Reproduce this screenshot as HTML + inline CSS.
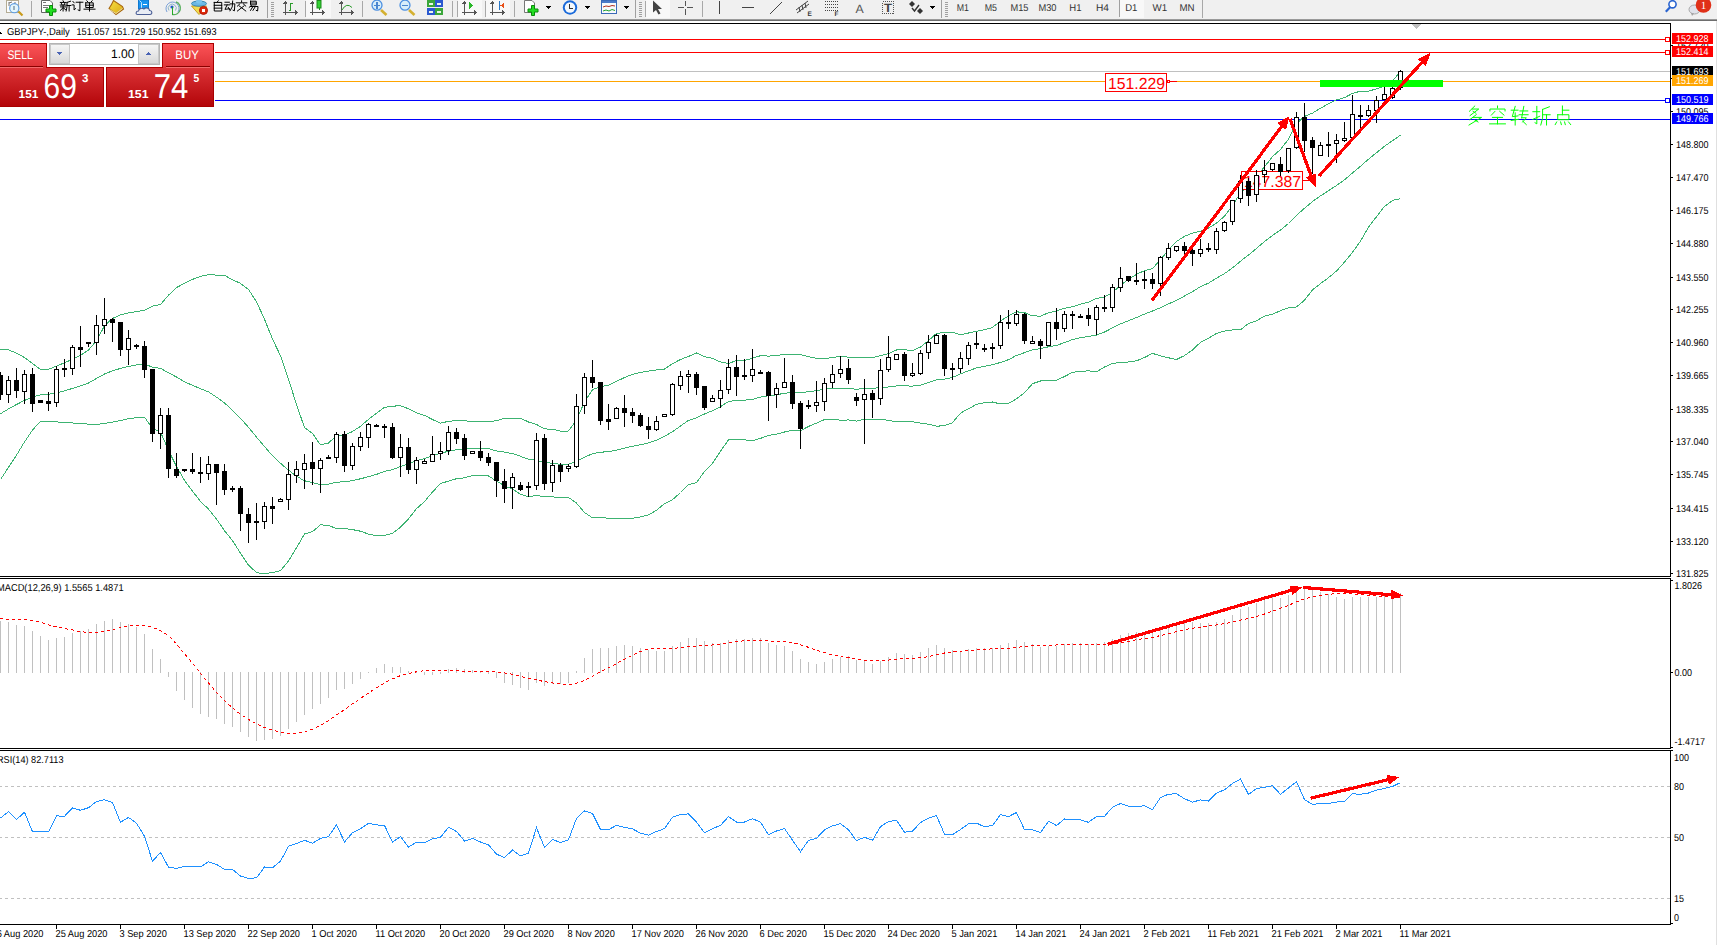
<!DOCTYPE html>
<html><head><meta charset="utf-8"><style>
html,body{margin:0;padding:0;background:#fff;overflow:hidden;}
svg{display:block;font-family:"Liberation Sans",sans-serif;}
</style></head><body>
<svg width="1717" height="945" viewBox="0 0 1717 945" shape-rendering="crispEdges" text-rendering="geometricPrecision">
<rect x="0" y="0" width="1717" height="945" fill="#fff"/>
<rect x="0" y="0" width="1717" height="19" fill="#F0F0F0"/>
<rect x="0" y="19" width="1717" height="1" fill="#9A9A9A"/>
<rect x="0" y="20" width="1717" height="1" fill="#6E6E6E"/>
<g id="toolbar"><rect x="6.5" y="0.5" width="12" height="12" fill="#FCFCFC" stroke="#B4AC94" shape-rendering="auto"/>
<path d="M9,2 L9,6 M9,3 L12,2 M15,2 L15,6" stroke="#777" fill="none" shape-rendering="auto"/>
<line x1="18.5" y1="11.5" x2="22.5" y2="15.5" stroke="#C89A1A" stroke-width="2.2" shape-rendering="auto"/>
<circle cx="14.3" cy="8.2" r="4.6" fill="#E4F6FC" stroke="#5C9BE0" stroke-width="1.1" shape-rendering="auto"/>
<rect x="13" y="5.5" width="2" height="4" fill="#9AB0C0"/>
<rect x="31" y="1" width="1" height="16" fill="#A8A8A8"/>
<path d="M41.5,0.5 L50,0.5 L52.5,3 L52.5,12.5 L41.5,12.5 Z" fill="#fff" stroke="#666" shape-rendering="auto"/>
<rect x="43" y="1.5" width="3" height="1.2" fill="#777"/><rect x="43" y="5" width="6" height="1" fill="#777"/><rect x="43" y="7" width="5" height="1" fill="#777"/>
<path d="M49.5,5.5 h3 v3.5 h3.5 v3 h-3.5 v3.5 h-3 v-3.5 h-3.5 v-3 h3.5 z" fill="#22DD22" stroke="#0A8A0A" shape-rendering="auto"/>
<path d="M63.08,0.80 L63.52,1.72 M60.33,2.43 L65.83,2.43 M61.32,3.25 L61.87,4.57 M64.84,3.25 L64.29,4.57 M60.22,5.08 L66.05,5.08 M60.55,6.92 L65.72,6.92 M63.08,5.08 L63.08,11.00 M62.86,7.94 L60.33,10.39 M63.41,7.94 L65.50,9.57 M70.56,1.21 L67.04,2.43 M67.04,2.43 L67.04,6.51 L66.16,11.00 M67.04,5.49 L70.89,5.49 M69.13,5.49 L69.13,11.00 M72.88,1.41 L74.20,2.84 M72.22,4.88 L74.09,4.88 L74.09,9.98 L75.63,8.55 M76.18,2.23 L82.89,2.23 M79.92,2.23 L79.92,10.80 L78.16,9.98 M86.86,0.80 L87.96,2.02 M92.14,0.80 L91.04,2.02 M85.76,2.84 L93.24,2.84 L93.24,7.53 L85.76,7.53 L85.76,2.84 M85.76,5.19 L93.24,5.19 M89.50,2.84 L89.50,11.00 M84.00,9.16 L95.00,9.16" fill="none" stroke="#000" stroke-width="1.0" stroke-linecap="square" shape-rendering="auto"/>
<defs><linearGradient id="gBook" x1="0" y1="0" x2="1" y2="1"><stop offset="0" stop-color="#F8E040"/><stop offset="1" stop-color="#D8A818"/></linearGradient></defs>
<path d="M113.5,0.5 Q112,4 109,8.5 L116,14.5 L123.5,9 L122.5,6.5 Z" fill="url(#gBook)" stroke="#A86810" stroke-width="1.1" shape-rendering="auto"/>
<path d="M109.5,9.5 L116,13.5 L122.5,8.5" stroke="#E8D8A0" fill="none" shape-rendering="auto"/>
<rect x="138.5" y="0" width="10" height="9" fill="#1A94F0" stroke="#0E78D0" shape-rendering="auto"/>
<path d="M139.5,0.5 L141.5,2.5 L141.5,9" stroke="#BFE4FF" fill="none" shape-rendering="auto"/>
<rect x="143" y="4" width="4" height="1" fill="#fff"/>
<path d="M137.5,14.5 C135.5,14.5 135.5,11 138.5,11 C139,8.5 142,7.5 144,9 C145.5,7 149.5,8 149.5,10.5 C152.5,10.5 152.5,14.5 150,14.5 Z" fill="#E8ECF4" stroke="#4A5E96" stroke-width="1.1" shape-rendering="auto"/>
<g fill="none" shape-rendering="auto"><path d="M167,12 A6.5,6.5 0 1 1 178,12" stroke="#7AA0D8" stroke-width="1"/><path d="M169,10.5 A4,4 0 1 1 175.5,10.5" stroke="#8CB4C8" stroke-width="1"/><path d="M176,2 A6.5,6.5 0 0 1 172.5,14.5" stroke="#5CB060" stroke-width="1.4"/></g>
<circle cx="172" cy="7" r="1.6" fill="#2255CC" shape-rendering="auto"/>
<rect x="172" y="7" width="1" height="7.5" fill="#22AA22"/>
<polygon points="191.5,6 206.5,6 199,14.5" fill="#F2DC50" stroke="#C8A020" shape-rendering="auto"/>
<ellipse cx="199" cy="3.6" rx="7.5" ry="2.6" fill="#6CB8E4" stroke="#3A88B0" shape-rendering="auto"/>
<ellipse cx="199" cy="1.5" rx="3" ry="2" fill="#7CC4EC" shape-rendering="auto"/>
<circle cx="203.5" cy="10.4" r="4" fill="#E02A0A" stroke="#B01808" shape-rendering="auto"/>
<rect x="202" y="9" width="3" height="3" fill="#fff"/>
<path d="M218.22,0.80 L217.12,2.23 M214.26,2.43 L221.74,2.43 L221.74,11.00 L214.26,11.00 L214.26,2.43 M214.26,5.29 L221.74,5.29 M214.26,8.14 L221.74,8.14 M224.96,2.23 L229.36,2.23 M224.30,4.88 L229.80,4.88 M227.16,4.88 L224.96,9.37 L229.36,8.76 M228.26,7.33 L229.58,9.78 M230.24,3.86 L234.86,3.86 L234.42,10.80 L233.10,10.18 M232.66,1.00 L232.22,6.92 L230.02,10.80 M241.60,0.80 L241.60,2.02 M236.32,2.84 L246.88,2.84 M239.84,3.86 L237.42,6.10 M243.36,3.86 L245.78,6.10 M239.18,5.90 L245.78,11.00 M244.02,5.90 L237.42,11.00 M250.54,1.21 L256.26,1.21 L256.26,4.88 L250.54,4.88 L250.54,1.21 M250.54,3.04 L256.26,3.04 M251.42,5.49 L249.22,7.33 M250.54,6.51 L258.02,6.51 L257.58,11.00 L256.26,10.39 M252.96,6.51 L250.54,10.39 M255.38,6.51 L252.96,10.39" fill="none" stroke="#000" stroke-width="1.0" stroke-linecap="square" shape-rendering="auto"/>
<rect x="267" y="0" width="1" height="18" fill="#A0A0A0"/>
<rect x="271" y="2" width="3" height="1" fill="#A0A0A0"/>
<rect x="271" y="4" width="3" height="1" fill="#A0A0A0"/>
<rect x="271" y="6" width="3" height="1" fill="#A0A0A0"/>
<rect x="271" y="8" width="3" height="1" fill="#A0A0A0"/>
<rect x="271" y="10" width="3" height="1" fill="#A0A0A0"/>
<rect x="271" y="12" width="3" height="1" fill="#A0A0A0"/>
<rect x="271" y="14" width="3" height="1" fill="#A0A0A0"/>
<rect x="271" y="16" width="3" height="1" fill="#A0A0A0"/>
<rect x="285" y="1" width="1" height="14" fill="#555"/>
<rect x="283" y="12" width="14" height="1" fill="#555"/>
<polygon points="283.5,3.5 285.5,0.5 287.5,3.5" fill="#555"/>
<polygon points="295,10 298,12.5 295,15" fill="#555"/>
<path d="M290.5,10 h-2 M290.5,10 V3 h2" stroke="#2A9A2A" fill="none"/>
<rect x="305" y="1" width="1" height="16" fill="#A8A8A8"/>
<rect x="306" y="0" width="25" height="18" fill="#F8F8F8"/>
<rect x="312" y="1" width="1" height="14" fill="#555"/>
<rect x="310" y="12" width="14" height="1" fill="#555"/>
<polygon points="310.5,3.5 312.5,0.5 314.5,3.5" fill="#555"/>
<polygon points="322,10 325,12.5 322,15" fill="#555"/>
<rect x="317" y="0.5" width="4" height="7.5" fill="#34D234" stroke="#1A8A1A" shape-rendering="auto"/>
<rect x="318.5" y="8" width="1" height="2" fill="#1A8A1A"/>
<rect x="341" y="1" width="1" height="14" fill="#555"/>
<rect x="339" y="12" width="14" height="1" fill="#555"/>
<polygon points="339.5,3.5 341.5,0.5 343.5,3.5" fill="#555"/>
<polygon points="351,10 354,12.5 351,15" fill="#555"/>
<path d="M342,10 Q346.5,2 352,7.5" stroke="#2A9A2A" fill="none" shape-rendering="auto"/>
<rect x="362" y="1" width="1" height="16" fill="#A8A8A8"/>
<line x1="381" y1="10" x2="386.5" y2="15" stroke="#D4B030" stroke-width="2.6" shape-rendering="auto"/>
<circle cx="377" cy="5.2" r="5" fill="#D8EEFA" stroke="#4C90E0" stroke-width="1.3" shape-rendering="auto"/>
<rect x="374" y="4.5" width="6" height="1.6" fill="#4A86D0"/>
<rect x="376.2" y="2" width="1.6" height="6.5" fill="#4A86D0"/>
<line x1="409" y1="10" x2="414.5" y2="15" stroke="#D4B030" stroke-width="2.6" shape-rendering="auto"/>
<circle cx="405" cy="5.2" r="5" fill="#D8EEFA" stroke="#4C90E0" stroke-width="1.3" shape-rendering="auto"/>
<rect x="402" y="4.5" width="6" height="1.6" fill="#4A86D0"/>
<rect x="427" y="0" width="7.5" height="7" fill="#3AA63A"/>
<rect x="428.5" y="2.5" width="4.5" height="2.5" fill="#EAF4EA"/>
<rect x="435" y="0" width="7.5" height="7" fill="#2A58D0"/>
<rect x="436.5" y="2.5" width="4.5" height="2.5" fill="#EAF4EA"/>
<rect x="427" y="8" width="7.5" height="7" fill="#2A58D0"/>
<rect x="428.5" y="10.5" width="4.5" height="2.5" fill="#EAF4EA"/>
<rect x="435" y="8" width="7.5" height="7" fill="#3AA63A"/>
<rect x="436.5" y="10.5" width="4.5" height="2.5" fill="#EAF4EA"/>
<rect x="452" y="1" width="1" height="16" fill="#A8A8A8"/>
<rect x="457" y="1" width="1" height="16" fill="#A8A8A8"/>
<rect x="458" y="0" width="24" height="18" fill="#F8F8F8"/>
<rect x="464" y="1" width="1" height="14" fill="#555"/>
<rect x="462" y="12" width="14" height="1" fill="#555"/>
<polygon points="462.5,3.5 464.5,0.5 466.5,3.5" fill="#555"/>
<polygon points="474,10 477,12.5 474,15" fill="#555"/>
<polygon points="469,2 473,5.5 469,9" fill="#2AB82A"/>
<rect x="485" y="1" width="1" height="16" fill="#A8A8A8"/>
<rect x="486" y="0" width="24" height="18" fill="#F8F8F8"/>
<rect x="492" y="1" width="1" height="14" fill="#555"/>
<rect x="490" y="12" width="14" height="1" fill="#555"/>
<polygon points="490.5,3.5 492.5,0.5 494.5,3.5" fill="#555"/>
<polygon points="502,10 505,12.5 502,15" fill="#555"/>
<rect x="499" y="1" width="1" height="9" fill="#2A78C8"/>
<polygon points="500.5,5.5 504,3 504,8" fill="#E8501A"/>
<rect x="514" y="1" width="1" height="16" fill="#A8A8A8"/>
<path d="M524.5,0.5 L532,0.5 L534.5,3 L534.5,12.5 L524.5,12.5 Z" fill="#fff" stroke="#777" shape-rendering="auto"/>
<path d="M531.5,5.5 h3 v3.5 h3.5 v3 h-3.5 v3.5 h-3 v-3.5 h-3.5 v-3 h3.5 z" fill="#22DD22" stroke="#0A8A0A" shape-rendering="auto"/>
<polygon points="545,6 551,6 548,9" fill="#000"/>
<circle cx="570" cy="7.5" r="7.2" fill="#1A6ADA" shape-rendering="auto"/>
<circle cx="570" cy="7.5" r="5.2" fill="#F4F8FC" shape-rendering="auto"/>
<path d="M569.5,3.5 V8 H573" stroke="#333" fill="none"/>
<polygon points="584,6 590,6 587,9" fill="#000"/>
<rect x="601.5" y="0.5" width="15" height="13" fill="#F8FAFC" stroke="#3A6AB8" shape-rendering="auto"/>
<rect x="602" y="1" width="14" height="2" fill="#4A7AC8"/>
<path d="M603,7 L606,6 L609,6.5 L612,5.5 L615,6" stroke="#B03020" fill="none" shape-rendering="auto"/>
<path d="M603,11 L606,10 L609,11 L612,9.5 L615,10.5" stroke="#20A030" fill="none" shape-rendering="auto"/>
<polygon points="623,6 629,6 626,9" fill="#000"/>
<rect x="635" y="0" width="1" height="18" fill="#A0A0A0"/>
<rect x="639" y="2" width="3" height="1" fill="#A0A0A0"/>
<rect x="639" y="4" width="3" height="1" fill="#A0A0A0"/>
<rect x="639" y="6" width="3" height="1" fill="#A0A0A0"/>
<rect x="639" y="8" width="3" height="1" fill="#A0A0A0"/>
<rect x="639" y="10" width="3" height="1" fill="#A0A0A0"/>
<rect x="639" y="12" width="3" height="1" fill="#A0A0A0"/>
<rect x="639" y="14" width="3" height="1" fill="#A0A0A0"/>
<rect x="639" y="16" width="3" height="1" fill="#A0A0A0"/>
<rect x="645" y="1" width="1" height="16" fill="#A8A8A8"/>
<rect x="646" y="0" width="24" height="18" fill="#F8F8F8"/>
<polygon points="653,0.5 653,12.5 656,10 658.5,14.5 660.5,13.5 658,9 662,9" fill="#444" shape-rendering="auto"/>
<rect x="685" y="1" width="1" height="14" fill="#555"/><rect x="678" y="7" width="15" height="1" fill="#555"/>
<rect x="684" y="6" width="3" height="3" fill="#F0F0F0"/>
<rect x="702" y="1" width="1" height="16" fill="#A8A8A8"/>
<rect x="719" y="1" width="1" height="13" fill="#444"/>
<rect x="742" y="7" width="12" height="1" fill="#444"/>
<line x1="770" y1="14" x2="782" y2="2" stroke="#444" shape-rendering="auto"/>
<g stroke="#444" shape-rendering="auto" fill="none"><path d="M796,10 L808,1 M797,13 L809,4 M799,7 L800,12 M802,5 L803,10 M805,3 L806,8"/></g>
<text x="807.5" y="16" font-size="6.5" font-weight="bold" fill="#333">E</text>
<path d="M825,1.5 h13" stroke="#444" stroke-dasharray="1,1" fill="none"/>
<path d="M825,4.5 h13" stroke="#444" stroke-dasharray="1,1" fill="none"/>
<path d="M825,7.5 h13" stroke="#444" stroke-dasharray="1,1" fill="none"/>
<path d="M825,10.5 h13" stroke="#444" stroke-dasharray="1,1" fill="none"/>
<text x="834.5" y="16" font-size="6.5" font-weight="bold" fill="#333">F</text>
<text x="855.5" y="12.5" font-size="12" fill="#555" textLength="8.2" lengthAdjust="spacingAndGlyphs">A</text>
<rect x="882.5" y="1.5" width="11" height="12" fill="none" stroke="#555" stroke-dasharray="1,1"/>
<text x="884" y="12" font-size="12" font-weight="bold" fill="#444" textLength="8" lengthAdjust="spacingAndGlyphs">T</text>
<polygon points="909,4 912,1 915,4 912,7" fill="#333" shape-rendering="auto"/>
<polygon points="917,11 920,8 923,11 920,14" fill="#333" shape-rendering="auto"/>
<path d="M912,8 L914.5,11 L919,5" stroke="#333" stroke-width="1.4" fill="none" shape-rendering="auto"/>
<polygon points="929,6 935,6 932,9" fill="#000"/>
<rect x="941" y="0" width="1" height="18" fill="#A0A0A0"/>
<rect x="945" y="2" width="3" height="1" fill="#A0A0A0"/>
<rect x="945" y="4" width="3" height="1" fill="#A0A0A0"/>
<rect x="945" y="6" width="3" height="1" fill="#A0A0A0"/>
<rect x="945" y="8" width="3" height="1" fill="#A0A0A0"/>
<rect x="945" y="10" width="3" height="1" fill="#A0A0A0"/>
<rect x="945" y="12" width="3" height="1" fill="#A0A0A0"/>
<rect x="945" y="14" width="3" height="1" fill="#A0A0A0"/>
<rect x="945" y="16" width="3" height="1" fill="#A0A0A0"/>
<rect x="1120" y="0" width="24" height="18" fill="#F8F8F8"/>
<rect x="1119" y="0" width="1" height="17" fill="#A0A0A0"/>
<text x="956.8" y="11.2" font-size="10" fill="#333" textLength="12.2" lengthAdjust="spacingAndGlyphs">M1</text>
<text x="984.7" y="11.2" font-size="10" fill="#333" textLength="12.3" lengthAdjust="spacingAndGlyphs">M5</text>
<text x="1010.5" y="11.2" font-size="10" fill="#333" textLength="18.0" lengthAdjust="spacingAndGlyphs">M15</text>
<text x="1038.4" y="11.2" font-size="10" fill="#333" textLength="18.1" lengthAdjust="spacingAndGlyphs">M30</text>
<text x="1069.3" y="11.2" font-size="10" fill="#333" textLength="12.2" lengthAdjust="spacingAndGlyphs">H1</text>
<text x="1096" y="11.2" font-size="10" fill="#333" textLength="13.0" lengthAdjust="spacingAndGlyphs">H4</text>
<text x="1125.2" y="11.2" font-size="10" fill="#333" textLength="12.2" lengthAdjust="spacingAndGlyphs">D1</text>
<text x="1152.6" y="11.2" font-size="10" fill="#333" textLength="14.6" lengthAdjust="spacingAndGlyphs">W1</text>
<text x="1179.4" y="11.2" font-size="10" fill="#333" textLength="15.1" lengthAdjust="spacingAndGlyphs">MN</text>
<circle cx="1672.5" cy="4.3" r="3.6" fill="#fff" stroke="#2A64D0" stroke-width="1.6" shape-rendering="auto"/>
<line x1="1670" y1="7.2" x2="1665.8" y2="11.8" stroke="#2A64D0" stroke-width="2.2" shape-rendering="auto"/>
<ellipse cx="1694.5" cy="9.5" rx="5.5" ry="4.5" fill="#E0E2EA" stroke="#A8A8A8" shape-rendering="auto"/>
<polygon points="1691,13 1692,16 1694,13.5" fill="#A0A0A0" shape-rendering="auto"/>
<circle cx="1703.5" cy="5" r="7.8" fill="#E03018" shape-rendering="auto"/>
<text x="1703.5" y="9.3" font-size="11" fill="#fff" text-anchor="middle" font-family="Liberation Serif">1</text>
<rect x="1202" y="0" width="1" height="18" fill="#A8A8A8"/></g>
<rect x="1716" y="21" width="1" height="924" fill="#E0E0E0"/>
<defs><clipPath id="cm"><rect x="0" y="24" width="1670" height="552"/></clipPath><clipPath id="cmacd"><rect x="0" y="579" width="1670" height="169"/></clipPath><clipPath id="crsi"><rect x="0" y="751" width="1670" height="173"/></clipPath></defs>
<g clip-path="url(#cm)">
<rect x="0" y="39" width="1670" height="1" fill="#FF0000"/>
<rect x="0" y="52" width="1670" height="1" fill="#FF0000"/>
<rect x="0" y="71" width="1670" height="1" fill="#C0C0C0"/>
<rect x="0" y="81" width="1670" height="1" fill="#FFA500"/>
<rect x="0" y="100" width="1670" height="1" fill="#0000FF"/>
<rect x="0" y="119" width="1670" height="1" fill="#0000FF"/>
<rect x="1665.5" y="37.5" width="4" height="4" fill="#fff" stroke="#FF0000" stroke-width="1"/>
<rect x="1665.5" y="50.5" width="4" height="4" fill="#fff" stroke="#FF0000" stroke-width="1"/>
<rect x="1665.5" y="98.5" width="4" height="4" fill="#fff" stroke="#0000FF" stroke-width="1"/>
<polygon points="1412,24 1421,24 1416.5,29" fill="#C0C0C0"/>
<polyline points="0.5,349.1 8.5,349.8 16.5,353.2 24.5,357.5 32.5,363.5 40.5,369.6 48.5,369.3 56.5,366.1 64.5,362.7 72.5,359.3 80.5,355.4 88.5,350.0 96.5,340.8 104.5,325.7 112.5,318.5 120.5,314.9 128.5,312.9 136.5,311.6 144.5,310.3 152.5,306.1 160.5,304.6 168.5,295.2 176.5,287.5 184.5,283.4 192.5,279.4 200.5,276.3 208.5,274.6 216.5,275.1 224.5,275.3 232.5,279.8 240.5,283.4 248.5,289.5 256.5,301.7 264.5,319.2 272.5,339.1 280.5,355.8 288.5,379.1 296.5,404.6 304.5,427.6 312.5,433.5 320.5,444.9 328.5,443.0 336.5,435.7 344.5,435.2 352.5,431.5 360.5,426.3 368.5,419.4 376.5,413.2 384.5,407.4 392.5,406.2 400.5,405.7 408.5,408.8 416.5,412.7 424.5,415.4 432.5,419.5 440.5,423.2 448.5,421.3 456.5,420.6 464.5,420.8 472.5,421.4 480.5,421.5 488.5,421.2 496.5,420.9 504.5,418.2 512.5,418.1 520.5,418.2 528.5,422.0 536.5,424.5 544.5,428.9 552.5,429.3 560.5,431.1 568.5,431.0 576.5,419.9 584.5,402.0 592.5,389.7 600.5,386.6 608.5,385.4 616.5,381.4 624.5,377.5 632.5,374.4 640.5,372.5 648.5,371.1 656.5,369.9 664.5,369.1 672.5,363.7 680.5,359.5 688.5,356.4 696.5,353.0 704.5,356.7 712.5,358.2 720.5,362.0 728.5,363.4 736.5,360.6 744.5,360.5 752.5,358.2 760.5,355.7 768.5,356.1 776.5,355.4 784.5,354.5 792.5,355.0 800.5,354.6 808.5,356.8 816.5,358.3 824.5,358.6 832.5,357.5 840.5,356.4 848.5,357.1 856.5,357.2 864.5,357.7 872.5,357.6 880.5,355.7 888.5,353.7 896.5,350.0 904.5,349.8 912.5,350.5 920.5,347.0 928.5,340.6 936.5,333.4 944.5,332.5 952.5,332.1 960.5,334.7 968.5,333.0 976.5,331.3 984.5,329.6 992.5,327.5 1000.5,320.9 1008.5,315.9 1016.5,311.8 1024.5,312.6 1032.5,315.9 1040.5,316.1 1048.5,312.8 1056.5,310.9 1064.5,308.3 1072.5,306.8 1080.5,304.1 1088.5,302.1 1096.5,298.5 1104.5,297.0 1112.5,292.4 1120.5,285.3 1128.5,279.3 1136.5,274.3 1144.5,270.7 1152.5,268.5 1160.5,259.7 1168.5,250.0 1176.5,241.4 1184.5,236.3 1192.5,233.1 1200.5,231.2 1208.5,228.0 1216.5,223.1 1224.5,216.2 1232.5,205.7 1240.5,192.6 1248.5,186.4 1256.5,176.1 1264.5,166.9 1272.5,156.6 1280.5,149.5 1288.5,139.1 1296.5,123.6 1304.5,116.4 1312.5,113.1 1320.5,108.2 1328.5,103.8 1336.5,99.9 1344.5,97.6 1352.5,93.4 1360.5,91.2 1368.5,91.2 1376.5,88.8 1384.5,86.2 1392.5,81.0 1400.5,71.5" fill="none" stroke="#3CB371" stroke-width="1" />
<polyline points="0.5,413.7 8.5,408.9 16.5,404.5 24.5,400.4 32.5,397.0 40.5,394.8 48.5,394.3 56.5,393.0 64.5,390.9 72.5,388.4 80.5,385.8 88.5,383.0 96.5,378.4 104.5,374.0 112.5,370.8 120.5,368.4 128.5,366.4 136.5,365.0 144.5,363.8 152.5,367.3 160.5,368.3 168.5,372.8 176.5,377.0 184.5,381.9 192.5,385.3 200.5,388.8 208.5,391.9 216.5,397.1 224.5,403.0 232.5,410.2 240.5,418.4 248.5,427.3 256.5,437.1 264.5,446.5 272.5,455.8 280.5,463.3 288.5,470.1 296.5,476.2 304.5,480.8 312.5,482.6 320.5,484.8 328.5,484.2 336.5,482.1 344.5,481.9 352.5,480.6 360.5,478.8 368.5,476.7 376.5,474.4 384.5,471.3 392.5,469.8 400.5,466.4 408.5,463.8 416.5,460.7 424.5,458.5 432.5,455.7 440.5,453.4 448.5,451.2 456.5,449.7 464.5,449.3 472.5,448.5 480.5,448.3 488.5,448.6 496.5,450.9 504.5,452.1 512.5,453.6 520.5,456.3 528.5,459.3 536.5,460.0 544.5,462.8 552.5,463.1 560.5,464.4 568.5,464.2 576.5,461.5 584.5,457.3 592.5,453.7 600.5,452.2 608.5,451.7 616.5,450.2 624.5,448.1 632.5,446.3 640.5,444.7 648.5,443.0 656.5,440.1 664.5,436.4 672.5,431.7 680.5,426.0 688.5,420.4 696.5,417.8 704.5,414.0 712.5,410.7 720.5,406.6 728.5,401.6 736.5,400.2 744.5,400.1 752.5,399.4 760.5,397.1 768.5,395.8 776.5,394.8 784.5,393.2 792.5,392.6 800.5,392.8 808.5,391.6 816.5,390.7 824.5,389.1 832.5,388.6 840.5,388.3 848.5,388.5 856.5,389.2 864.5,388.5 872.5,388.5 880.5,387.5 888.5,387.0 896.5,385.9 904.5,385.9 912.5,386.1 920.5,385.1 928.5,382.4 936.5,379.8 944.5,379.1 952.5,377.4 960.5,373.9 968.5,370.8 976.5,367.9 984.5,366.2 992.5,364.8 1000.5,362.4 1008.5,359.7 1016.5,355.4 1024.5,352.7 1032.5,349.8 1040.5,348.6 1048.5,346.8 1056.5,345.5 1064.5,342.5 1072.5,339.6 1080.5,337.7 1088.5,336.5 1096.5,335.1 1104.5,332.0 1112.5,327.9 1120.5,323.9 1128.5,320.7 1136.5,317.5 1144.5,314.1 1152.5,311.0 1160.5,307.7 1168.5,303.9 1176.5,300.5 1184.5,296.0 1192.5,291.6 1200.5,286.7 1208.5,283.1 1216.5,278.2 1224.5,273.6 1232.5,267.9 1240.5,261.2 1248.5,255.0 1256.5,248.4 1264.5,241.6 1272.5,235.4 1280.5,230.1 1288.5,223.5 1296.5,215.3 1304.5,208.3 1312.5,201.5 1320.5,195.9 1328.5,190.7 1336.5,185.5 1344.5,179.9 1352.5,172.9 1360.5,166.2 1368.5,159.2 1376.5,152.7 1384.5,146.3 1392.5,140.7 1400.5,135.2" fill="none" stroke="#3CB371" stroke-width="1" />
<polyline points="0.5,479.5 8.5,467.4 16.5,455.2 24.5,441.9 32.5,430.1 40.5,421.2 48.5,421.5 56.5,421.9 64.5,422.4 72.5,423.0 80.5,423.5 88.5,424.1 96.5,424.5 104.5,423.3 112.5,422.2 120.5,420.5 128.5,418.7 136.5,417.7 144.5,417.1 152.5,428.5 160.5,432.1 168.5,450.3 176.5,466.5 184.5,480.3 192.5,491.2 200.5,501.4 208.5,509.1 216.5,519.0 224.5,530.8 232.5,540.6 240.5,553.3 248.5,565.1 256.5,572.6 264.5,573.8 272.5,572.5 280.5,570.7 288.5,561.1 296.5,547.8 304.5,534.0 312.5,531.7 320.5,524.8 328.5,525.4 336.5,528.6 344.5,528.6 352.5,529.6 360.5,531.2 368.5,534.1 376.5,535.7 384.5,535.3 392.5,533.3 400.5,527.2 408.5,518.8 416.5,508.7 424.5,501.5 432.5,492.0 440.5,483.5 448.5,481.1 456.5,478.7 464.5,477.8 472.5,475.5 480.5,475.2 488.5,476.0 496.5,481.0 504.5,485.9 512.5,489.1 520.5,494.3 528.5,496.6 536.5,495.5 544.5,496.6 552.5,496.9 560.5,497.7 568.5,497.4 576.5,503.1 584.5,512.6 592.5,517.8 600.5,517.8 608.5,518.1 616.5,519.0 624.5,518.6 632.5,518.2 640.5,516.9 648.5,514.9 656.5,510.3 664.5,503.6 672.5,499.7 680.5,492.5 688.5,484.5 696.5,482.7 704.5,471.4 712.5,463.2 720.5,451.2 728.5,439.9 736.5,439.7 744.5,439.8 752.5,440.7 760.5,438.4 768.5,435.5 776.5,434.1 784.5,432.0 792.5,430.3 800.5,430.9 808.5,426.4 816.5,423.1 824.5,419.6 832.5,419.7 840.5,420.1 848.5,420.0 856.5,421.1 864.5,419.3 872.5,419.5 880.5,419.4 888.5,420.3 896.5,421.9 904.5,421.9 912.5,421.7 920.5,423.1 928.5,424.2 936.5,426.2 944.5,425.7 952.5,422.7 960.5,413.1 968.5,408.7 976.5,404.4 984.5,402.7 992.5,402.0 1000.5,404.0 1008.5,403.4 1016.5,398.9 1024.5,392.8 1032.5,383.7 1040.5,381.0 1048.5,380.8 1056.5,380.2 1064.5,376.6 1072.5,372.3 1080.5,371.3 1088.5,370.9 1096.5,371.7 1104.5,367.0 1112.5,363.4 1120.5,362.5 1128.5,362.0 1136.5,360.8 1144.5,357.5 1152.5,353.4 1160.5,355.8 1168.5,357.8 1176.5,359.5 1184.5,355.6 1192.5,350.0 1200.5,342.3 1208.5,338.2 1216.5,333.4 1224.5,331.1 1232.5,330.0 1240.5,329.7 1248.5,323.6 1256.5,320.8 1264.5,316.2 1272.5,314.1 1280.5,310.7 1288.5,307.8 1296.5,307.0 1304.5,300.2 1312.5,289.9 1320.5,283.6 1328.5,277.7 1336.5,271.0 1344.5,262.1 1352.5,252.4 1360.5,241.2 1368.5,227.3 1376.5,216.7 1384.5,206.4 1392.5,200.4 1400.5,198.8" fill="none" stroke="#3CB371" stroke-width="1" />
<rect x="1105.5" y="73.5" width="61" height="18" fill="#fff" stroke="#FF0000" stroke-width="1"/>
<text x="1108" y="89" font-size="16" fill="#FF0000" text-anchor="start" textLength="57.0" lengthAdjust="spacingAndGlyphs">151.229</text>
<rect x="1167.5" y="80.5" width="2" height="2" fill="#fff" stroke="#FF0000" stroke-width="1"/>
<rect x="1170" y="81" width="7" height="1" fill="#FF0000"/>
<rect x="1241.5" y="171.5" width="61" height="18" fill="#fff" stroke="#FF0000" stroke-width="1"/>
<text x="1244" y="187" font-size="16" fill="#FF0000" text-anchor="start" textLength="57.0" lengthAdjust="spacingAndGlyphs">147.387</text>
<rect x="1303" y="180" width="8" height="1" fill="#FF0000"/>
<rect x="0" y="372" width="1" height="28" fill="#000"/>
<rect x="-2" y="375" width="5" height="20" fill="#000"/>
<rect x="8" y="376" width="1" height="27" fill="#000"/>
<rect x="6" y="380" width="5" height="15" fill="#000"/>
<rect x="7" y="381" width="3" height="13" fill="#fff"/>
<rect x="16" y="368" width="1" height="30" fill="#000"/>
<rect x="14" y="380" width="5" height="11" fill="#000"/>
<rect x="24" y="370" width="1" height="34" fill="#000"/>
<rect x="22" y="374" width="5" height="18" fill="#000"/>
<rect x="23" y="375" width="3" height="16" fill="#fff"/>
<rect x="32" y="368" width="1" height="44" fill="#000"/>
<rect x="30" y="374" width="5" height="30" fill="#000"/>
<rect x="40" y="400" width="1" height="3" fill="#000"/>
<rect x="38" y="400" width="5" height="3" fill="#000"/>
<rect x="48" y="392" width="1" height="19" fill="#000"/>
<rect x="46" y="401" width="5" height="3" fill="#000"/>
<rect x="56" y="366" width="1" height="41" fill="#000"/>
<rect x="54" y="369" width="5" height="34" fill="#000"/>
<rect x="55" y="370" width="3" height="32" fill="#fff"/>
<rect x="64" y="359" width="1" height="18" fill="#000"/>
<rect x="62" y="368" width="5" height="2" fill="#000"/>
<rect x="72" y="345" width="1" height="30" fill="#000"/>
<rect x="70" y="347" width="5" height="22" fill="#000"/>
<rect x="71" y="348" width="3" height="20" fill="#fff"/>
<rect x="80" y="326" width="1" height="41" fill="#000"/>
<rect x="78" y="347" width="5" height="3" fill="#000"/>
<rect x="88" y="342" width="1" height="5" fill="#000"/>
<rect x="86" y="342" width="5" height="2" fill="#000"/>
<rect x="96" y="315" width="1" height="40" fill="#000"/>
<rect x="94" y="325" width="5" height="18" fill="#000"/>
<rect x="95" y="326" width="3" height="16" fill="#fff"/>
<rect x="104" y="298" width="1" height="36" fill="#000"/>
<rect x="102" y="319" width="5" height="7" fill="#000"/>
<rect x="103" y="320" width="3" height="5" fill="#fff"/>
<rect x="112" y="318" width="1" height="24" fill="#000"/>
<rect x="110" y="319" width="5" height="4" fill="#000"/>
<rect x="120" y="322" width="1" height="34" fill="#000"/>
<rect x="118" y="322" width="5" height="28" fill="#000"/>
<rect x="128" y="330" width="1" height="35" fill="#000"/>
<rect x="126" y="338" width="5" height="12" fill="#000"/>
<rect x="127" y="339" width="3" height="10" fill="#fff"/>
<rect x="136" y="344" width="1" height="5" fill="#000"/>
<rect x="134" y="345" width="5" height="2" fill="#000"/>
<rect x="144" y="341" width="1" height="37" fill="#000"/>
<rect x="142" y="346" width="5" height="24" fill="#000"/>
<rect x="152" y="369" width="1" height="73" fill="#000"/>
<rect x="150" y="369" width="5" height="65" fill="#000"/>
<rect x="160" y="408" width="1" height="41" fill="#000"/>
<rect x="158" y="415" width="5" height="19" fill="#000"/>
<rect x="159" y="416" width="3" height="17" fill="#fff"/>
<rect x="168" y="408" width="1" height="70" fill="#000"/>
<rect x="166" y="415" width="5" height="54" fill="#000"/>
<rect x="176" y="453" width="1" height="25" fill="#000"/>
<rect x="174" y="469" width="5" height="7" fill="#000"/>
<rect x="184" y="469" width="1" height="3" fill="#000"/>
<rect x="182" y="469" width="5" height="2" fill="#000"/>
<rect x="192" y="453" width="1" height="21" fill="#000"/>
<rect x="190" y="469" width="5" height="3" fill="#000"/>
<rect x="200" y="457" width="1" height="26" fill="#000"/>
<rect x="198" y="472" width="5" height="2" fill="#000"/>
<rect x="208" y="456" width="1" height="24" fill="#000"/>
<rect x="206" y="464" width="5" height="10" fill="#000"/>
<rect x="207" y="465" width="3" height="8" fill="#fff"/>
<rect x="216" y="464" width="1" height="41" fill="#000"/>
<rect x="214" y="464" width="5" height="9" fill="#000"/>
<rect x="224" y="464" width="1" height="31" fill="#000"/>
<rect x="222" y="471" width="5" height="19" fill="#000"/>
<rect x="232" y="486" width="1" height="6" fill="#000"/>
<rect x="230" y="488" width="5" height="2" fill="#000"/>
<rect x="240" y="486" width="1" height="45" fill="#000"/>
<rect x="238" y="488" width="5" height="26" fill="#000"/>
<rect x="248" y="508" width="1" height="35" fill="#000"/>
<rect x="246" y="514" width="5" height="9" fill="#000"/>
<rect x="256" y="503" width="1" height="37" fill="#000"/>
<rect x="254" y="521" width="5" height="2" fill="#000"/>
<rect x="264" y="502" width="1" height="27" fill="#000"/>
<rect x="262" y="506" width="5" height="16" fill="#000"/>
<rect x="263" y="507" width="3" height="14" fill="#fff"/>
<rect x="272" y="497" width="1" height="27" fill="#000"/>
<rect x="270" y="506" width="5" height="3" fill="#000"/>
<rect x="280" y="498" width="1" height="4" fill="#000"/>
<rect x="278" y="499" width="5" height="3" fill="#000"/>
<rect x="279" y="500" width="3" height="1" fill="#fff"/>
<rect x="288" y="462" width="1" height="48" fill="#000"/>
<rect x="286" y="474" width="5" height="26" fill="#000"/>
<rect x="287" y="475" width="3" height="24" fill="#fff"/>
<rect x="296" y="461" width="1" height="22" fill="#000"/>
<rect x="294" y="469" width="5" height="7" fill="#000"/>
<rect x="295" y="470" width="3" height="5" fill="#fff"/>
<rect x="304" y="454" width="1" height="35" fill="#000"/>
<rect x="302" y="463" width="5" height="7" fill="#000"/>
<rect x="303" y="464" width="3" height="5" fill="#fff"/>
<rect x="312" y="442" width="1" height="43" fill="#000"/>
<rect x="310" y="462" width="5" height="7" fill="#000"/>
<rect x="320" y="458" width="1" height="35" fill="#000"/>
<rect x="318" y="460" width="5" height="9" fill="#000"/>
<rect x="319" y="461" width="3" height="7" fill="#fff"/>
<rect x="328" y="455" width="1" height="4" fill="#000"/>
<rect x="326" y="457" width="5" height="2" fill="#000"/>
<rect x="336" y="432" width="1" height="31" fill="#000"/>
<rect x="334" y="434" width="5" height="24" fill="#000"/>
<rect x="335" y="435" width="3" height="22" fill="#fff"/>
<rect x="344" y="431" width="1" height="41" fill="#000"/>
<rect x="342" y="434" width="5" height="32" fill="#000"/>
<rect x="352" y="443" width="1" height="27" fill="#000"/>
<rect x="350" y="446" width="5" height="20" fill="#000"/>
<rect x="351" y="447" width="3" height="18" fill="#fff"/>
<rect x="360" y="432" width="1" height="19" fill="#000"/>
<rect x="358" y="437" width="5" height="10" fill="#000"/>
<rect x="359" y="438" width="3" height="8" fill="#fff"/>
<rect x="368" y="423" width="1" height="25" fill="#000"/>
<rect x="366" y="424" width="5" height="14" fill="#000"/>
<rect x="367" y="425" width="3" height="12" fill="#fff"/>
<rect x="376" y="424" width="1" height="3" fill="#000"/>
<rect x="374" y="425" width="5" height="2" fill="#000"/>
<rect x="384" y="424" width="1" height="14" fill="#000"/>
<rect x="382" y="426" width="5" height="2" fill="#000"/>
<rect x="392" y="423" width="1" height="36" fill="#000"/>
<rect x="390" y="427" width="5" height="31" fill="#000"/>
<rect x="400" y="434" width="1" height="43" fill="#000"/>
<rect x="398" y="447" width="5" height="11" fill="#000"/>
<rect x="399" y="448" width="3" height="9" fill="#fff"/>
<rect x="408" y="438" width="1" height="36" fill="#000"/>
<rect x="406" y="447" width="5" height="23" fill="#000"/>
<rect x="416" y="457" width="1" height="27" fill="#000"/>
<rect x="414" y="460" width="5" height="10" fill="#000"/>
<rect x="415" y="461" width="3" height="8" fill="#fff"/>
<rect x="424" y="459" width="1" height="5" fill="#000"/>
<rect x="422" y="461" width="5" height="3" fill="#000"/>
<rect x="423" y="462" width="3" height="1" fill="#fff"/>
<rect x="432" y="436" width="1" height="26" fill="#000"/>
<rect x="430" y="454" width="5" height="8" fill="#000"/>
<rect x="431" y="455" width="3" height="6" fill="#fff"/>
<rect x="440" y="442" width="1" height="18" fill="#000"/>
<rect x="438" y="451" width="5" height="3" fill="#000"/>
<rect x="439" y="452" width="3" height="1" fill="#fff"/>
<rect x="448" y="426" width="1" height="29" fill="#000"/>
<rect x="446" y="432" width="5" height="19" fill="#000"/>
<rect x="447" y="433" width="3" height="17" fill="#fff"/>
<rect x="456" y="428" width="1" height="16" fill="#000"/>
<rect x="454" y="432" width="5" height="7" fill="#000"/>
<rect x="464" y="434" width="1" height="26" fill="#000"/>
<rect x="462" y="438" width="5" height="18" fill="#000"/>
<rect x="472" y="451" width="1" height="3" fill="#000"/>
<rect x="470" y="451" width="5" height="3" fill="#000"/>
<rect x="471" y="452" width="3" height="1" fill="#fff"/>
<rect x="480" y="441" width="1" height="20" fill="#000"/>
<rect x="478" y="451" width="5" height="7" fill="#000"/>
<rect x="488" y="453" width="1" height="13" fill="#000"/>
<rect x="486" y="457" width="5" height="6" fill="#000"/>
<rect x="496" y="462" width="1" height="35" fill="#000"/>
<rect x="494" y="462" width="5" height="19" fill="#000"/>
<rect x="504" y="469" width="1" height="34" fill="#000"/>
<rect x="502" y="481" width="5" height="8" fill="#000"/>
<rect x="512" y="473" width="1" height="36" fill="#000"/>
<rect x="510" y="477" width="5" height="11" fill="#000"/>
<rect x="511" y="478" width="3" height="9" fill="#fff"/>
<rect x="520" y="482" width="1" height="9" fill="#000"/>
<rect x="518" y="485" width="5" height="5" fill="#000"/>
<rect x="528" y="482" width="1" height="15" fill="#000"/>
<rect x="526" y="486" width="5" height="2" fill="#000"/>
<rect x="536" y="433" width="1" height="57" fill="#000"/>
<rect x="534" y="440" width="5" height="46" fill="#000"/>
<rect x="535" y="441" width="3" height="44" fill="#fff"/>
<rect x="544" y="434" width="1" height="56" fill="#000"/>
<rect x="542" y="438" width="5" height="46" fill="#000"/>
<rect x="552" y="460" width="1" height="32" fill="#000"/>
<rect x="550" y="465" width="5" height="18" fill="#000"/>
<rect x="551" y="466" width="3" height="16" fill="#fff"/>
<rect x="560" y="463" width="1" height="19" fill="#000"/>
<rect x="558" y="465" width="5" height="7" fill="#000"/>
<rect x="568" y="464" width="1" height="8" fill="#000"/>
<rect x="566" y="466" width="5" height="3" fill="#000"/>
<rect x="567" y="467" width="3" height="1" fill="#fff"/>
<rect x="576" y="394" width="1" height="74" fill="#000"/>
<rect x="574" y="406" width="5" height="61" fill="#000"/>
<rect x="575" y="407" width="3" height="59" fill="#fff"/>
<rect x="584" y="373" width="1" height="41" fill="#000"/>
<rect x="582" y="377" width="5" height="29" fill="#000"/>
<rect x="583" y="378" width="3" height="27" fill="#fff"/>
<rect x="592" y="360" width="1" height="28" fill="#000"/>
<rect x="590" y="377" width="5" height="6" fill="#000"/>
<rect x="600" y="382" width="1" height="43" fill="#000"/>
<rect x="598" y="382" width="5" height="39" fill="#000"/>
<rect x="608" y="404" width="1" height="26" fill="#000"/>
<rect x="606" y="419" width="5" height="3" fill="#000"/>
<rect x="616" y="407" width="1" height="12" fill="#000"/>
<rect x="614" y="408" width="5" height="11" fill="#000"/>
<rect x="615" y="409" width="3" height="9" fill="#fff"/>
<rect x="624" y="395" width="1" height="32" fill="#000"/>
<rect x="622" y="408" width="5" height="5" fill="#000"/>
<rect x="632" y="408" width="1" height="15" fill="#000"/>
<rect x="630" y="412" width="5" height="4" fill="#000"/>
<rect x="640" y="413" width="1" height="14" fill="#000"/>
<rect x="638" y="415" width="5" height="11" fill="#000"/>
<rect x="648" y="417" width="1" height="22" fill="#000"/>
<rect x="646" y="426" width="5" height="4" fill="#000"/>
<rect x="656" y="416" width="1" height="15" fill="#000"/>
<rect x="654" y="421" width="5" height="9" fill="#000"/>
<rect x="655" y="422" width="3" height="7" fill="#fff"/>
<rect x="664" y="414" width="1" height="3" fill="#000"/>
<rect x="662" y="414" width="5" height="3" fill="#000"/>
<rect x="663" y="415" width="3" height="1" fill="#fff"/>
<rect x="672" y="383" width="1" height="33" fill="#000"/>
<rect x="670" y="384" width="5" height="31" fill="#000"/>
<rect x="671" y="385" width="3" height="29" fill="#fff"/>
<rect x="680" y="371" width="1" height="19" fill="#000"/>
<rect x="678" y="376" width="5" height="10" fill="#000"/>
<rect x="679" y="377" width="3" height="8" fill="#fff"/>
<rect x="688" y="370" width="1" height="23" fill="#000"/>
<rect x="686" y="374" width="5" height="3" fill="#000"/>
<rect x="687" y="375" width="3" height="1" fill="#fff"/>
<rect x="696" y="372" width="1" height="23" fill="#000"/>
<rect x="694" y="374" width="5" height="14" fill="#000"/>
<rect x="704" y="386" width="1" height="24" fill="#000"/>
<rect x="702" y="386" width="5" height="22" fill="#000"/>
<rect x="712" y="395" width="1" height="7" fill="#000"/>
<rect x="710" y="398" width="5" height="4" fill="#000"/>
<rect x="711" y="399" width="3" height="2" fill="#fff"/>
<rect x="720" y="380" width="1" height="28" fill="#000"/>
<rect x="718" y="390" width="5" height="9" fill="#000"/>
<rect x="719" y="391" width="3" height="7" fill="#fff"/>
<rect x="728" y="359" width="1" height="35" fill="#000"/>
<rect x="726" y="367" width="5" height="23" fill="#000"/>
<rect x="727" y="368" width="3" height="21" fill="#fff"/>
<rect x="736" y="355" width="1" height="41" fill="#000"/>
<rect x="734" y="367" width="5" height="10" fill="#000"/>
<rect x="744" y="359" width="1" height="21" fill="#000"/>
<rect x="742" y="375" width="5" height="2" fill="#000"/>
<rect x="752" y="349" width="1" height="33" fill="#000"/>
<rect x="750" y="369" width="5" height="7" fill="#000"/>
<rect x="751" y="370" width="3" height="5" fill="#fff"/>
<rect x="760" y="370" width="1" height="4" fill="#000"/>
<rect x="758" y="372" width="5" height="2" fill="#000"/>
<rect x="768" y="371" width="1" height="50" fill="#000"/>
<rect x="766" y="372" width="5" height="24" fill="#000"/>
<rect x="776" y="383" width="1" height="25" fill="#000"/>
<rect x="774" y="388" width="5" height="7" fill="#000"/>
<rect x="775" y="389" width="3" height="5" fill="#fff"/>
<rect x="784" y="358" width="1" height="30" fill="#000"/>
<rect x="782" y="382" width="5" height="6" fill="#000"/>
<rect x="783" y="383" width="3" height="4" fill="#fff"/>
<rect x="792" y="375" width="1" height="34" fill="#000"/>
<rect x="790" y="382" width="5" height="22" fill="#000"/>
<rect x="800" y="401" width="1" height="48" fill="#000"/>
<rect x="798" y="403" width="5" height="26" fill="#000"/>
<rect x="808" y="400" width="1" height="9" fill="#000"/>
<rect x="806" y="405" width="5" height="2" fill="#000"/>
<rect x="816" y="381" width="1" height="31" fill="#000"/>
<rect x="814" y="402" width="5" height="4" fill="#000"/>
<rect x="815" y="403" width="3" height="2" fill="#fff"/>
<rect x="824" y="378" width="1" height="33" fill="#000"/>
<rect x="822" y="383" width="5" height="19" fill="#000"/>
<rect x="823" y="384" width="3" height="17" fill="#fff"/>
<rect x="832" y="365" width="1" height="23" fill="#000"/>
<rect x="830" y="374" width="5" height="9" fill="#000"/>
<rect x="831" y="375" width="3" height="7" fill="#fff"/>
<rect x="840" y="356" width="1" height="22" fill="#000"/>
<rect x="838" y="369" width="5" height="5" fill="#000"/>
<rect x="839" y="370" width="3" height="3" fill="#fff"/>
<rect x="848" y="359" width="1" height="25" fill="#000"/>
<rect x="846" y="368" width="5" height="12" fill="#000"/>
<rect x="856" y="393" width="1" height="13" fill="#000"/>
<rect x="854" y="397" width="5" height="4" fill="#000"/>
<rect x="864" y="379" width="1" height="65" fill="#000"/>
<rect x="862" y="394" width="5" height="6" fill="#000"/>
<rect x="863" y="395" width="3" height="4" fill="#fff"/>
<rect x="872" y="390" width="1" height="28" fill="#000"/>
<rect x="870" y="393" width="5" height="7" fill="#000"/>
<rect x="880" y="359" width="1" height="46" fill="#000"/>
<rect x="878" y="370" width="5" height="29" fill="#000"/>
<rect x="879" y="371" width="3" height="27" fill="#fff"/>
<rect x="888" y="336" width="1" height="36" fill="#000"/>
<rect x="886" y="357" width="5" height="13" fill="#000"/>
<rect x="887" y="358" width="3" height="11" fill="#fff"/>
<rect x="896" y="354" width="1" height="6" fill="#000"/>
<rect x="894" y="354" width="5" height="6" fill="#000"/>
<rect x="895" y="355" width="3" height="4" fill="#fff"/>
<rect x="904" y="352" width="1" height="29" fill="#000"/>
<rect x="902" y="354" width="5" height="22" fill="#000"/>
<rect x="912" y="363" width="1" height="14" fill="#000"/>
<rect x="910" y="373" width="5" height="3" fill="#000"/>
<rect x="911" y="374" width="3" height="1" fill="#fff"/>
<rect x="920" y="350" width="1" height="25" fill="#000"/>
<rect x="918" y="353" width="5" height="21" fill="#000"/>
<rect x="919" y="354" width="3" height="19" fill="#fff"/>
<rect x="928" y="335" width="1" height="24" fill="#000"/>
<rect x="926" y="342" width="5" height="11" fill="#000"/>
<rect x="927" y="343" width="3" height="9" fill="#fff"/>
<rect x="936" y="334" width="1" height="10" fill="#000"/>
<rect x="934" y="335" width="5" height="9" fill="#000"/>
<rect x="935" y="336" width="3" height="7" fill="#fff"/>
<rect x="944" y="334" width="1" height="42" fill="#000"/>
<rect x="942" y="335" width="5" height="34" fill="#000"/>
<rect x="952" y="363" width="1" height="17" fill="#000"/>
<rect x="950" y="368" width="5" height="2" fill="#000"/>
<rect x="960" y="352" width="1" height="21" fill="#000"/>
<rect x="958" y="358" width="5" height="11" fill="#000"/>
<rect x="959" y="359" width="3" height="9" fill="#fff"/>
<rect x="968" y="342" width="1" height="23" fill="#000"/>
<rect x="966" y="345" width="5" height="14" fill="#000"/>
<rect x="967" y="346" width="3" height="12" fill="#fff"/>
<rect x="976" y="332" width="1" height="17" fill="#000"/>
<rect x="974" y="343" width="5" height="2" fill="#000"/>
<rect x="984" y="344" width="1" height="8" fill="#000"/>
<rect x="982" y="348" width="5" height="2" fill="#000"/>
<rect x="992" y="343" width="1" height="16" fill="#000"/>
<rect x="990" y="347" width="5" height="2" fill="#000"/>
<rect x="1000" y="315" width="1" height="34" fill="#000"/>
<rect x="998" y="322" width="5" height="24" fill="#000"/>
<rect x="999" y="323" width="3" height="22" fill="#fff"/>
<rect x="1008" y="310" width="1" height="19" fill="#000"/>
<rect x="1006" y="322" width="5" height="2" fill="#000"/>
<rect x="1016" y="310" width="1" height="16" fill="#000"/>
<rect x="1014" y="314" width="5" height="10" fill="#000"/>
<rect x="1015" y="315" width="3" height="8" fill="#fff"/>
<rect x="1024" y="313" width="1" height="31" fill="#000"/>
<rect x="1022" y="314" width="5" height="27" fill="#000"/>
<rect x="1032" y="336" width="1" height="8" fill="#000"/>
<rect x="1030" y="341" width="5" height="3" fill="#000"/>
<rect x="1031" y="342" width="3" height="1" fill="#fff"/>
<rect x="1040" y="339" width="1" height="20" fill="#000"/>
<rect x="1038" y="341" width="5" height="5" fill="#000"/>
<rect x="1048" y="322" width="1" height="24" fill="#000"/>
<rect x="1046" y="322" width="5" height="24" fill="#000"/>
<rect x="1047" y="323" width="3" height="22" fill="#fff"/>
<rect x="1056" y="308" width="1" height="32" fill="#000"/>
<rect x="1054" y="322" width="5" height="7" fill="#000"/>
<rect x="1064" y="311" width="1" height="21" fill="#000"/>
<rect x="1062" y="314" width="5" height="15" fill="#000"/>
<rect x="1063" y="315" width="3" height="13" fill="#fff"/>
<rect x="1072" y="311" width="1" height="18" fill="#000"/>
<rect x="1070" y="314" width="5" height="2" fill="#000"/>
<rect x="1080" y="314" width="1" height="4" fill="#000"/>
<rect x="1078" y="316" width="5" height="2" fill="#000"/>
<rect x="1088" y="308" width="1" height="18" fill="#000"/>
<rect x="1086" y="315" width="5" height="4" fill="#000"/>
<rect x="1096" y="305" width="1" height="30" fill="#000"/>
<rect x="1094" y="307" width="5" height="13" fill="#000"/>
<rect x="1095" y="308" width="3" height="11" fill="#fff"/>
<rect x="1104" y="295" width="1" height="17" fill="#000"/>
<rect x="1102" y="307" width="5" height="2" fill="#000"/>
<rect x="1112" y="284" width="1" height="28" fill="#000"/>
<rect x="1110" y="287" width="5" height="21" fill="#000"/>
<rect x="1111" y="288" width="3" height="19" fill="#fff"/>
<rect x="1120" y="267" width="1" height="25" fill="#000"/>
<rect x="1118" y="278" width="5" height="10" fill="#000"/>
<rect x="1119" y="279" width="3" height="8" fill="#fff"/>
<rect x="1128" y="276" width="1" height="6" fill="#000"/>
<rect x="1126" y="276" width="5" height="5" fill="#000"/>
<rect x="1136" y="263" width="1" height="22" fill="#000"/>
<rect x="1134" y="280" width="5" height="2" fill="#000"/>
<rect x="1144" y="271" width="1" height="18" fill="#000"/>
<rect x="1142" y="279" width="5" height="2" fill="#000"/>
<rect x="1152" y="273" width="1" height="16" fill="#000"/>
<rect x="1150" y="279" width="5" height="5" fill="#000"/>
<rect x="1160" y="256" width="1" height="40" fill="#000"/>
<rect x="1158" y="257" width="5" height="27" fill="#000"/>
<rect x="1159" y="258" width="3" height="25" fill="#fff"/>
<rect x="1168" y="243" width="1" height="17" fill="#000"/>
<rect x="1166" y="248" width="5" height="10" fill="#000"/>
<rect x="1167" y="249" width="3" height="8" fill="#fff"/>
<rect x="1176" y="246" width="1" height="6" fill="#000"/>
<rect x="1174" y="246" width="5" height="5" fill="#000"/>
<rect x="1175" y="247" width="3" height="3" fill="#fff"/>
<rect x="1184" y="242" width="1" height="12" fill="#000"/>
<rect x="1182" y="246" width="5" height="5" fill="#000"/>
<rect x="1192" y="249" width="1" height="17" fill="#000"/>
<rect x="1190" y="250" width="5" height="4" fill="#000"/>
<rect x="1200" y="239" width="1" height="18" fill="#000"/>
<rect x="1198" y="249" width="5" height="5" fill="#000"/>
<rect x="1199" y="250" width="3" height="3" fill="#fff"/>
<rect x="1208" y="243" width="1" height="9" fill="#000"/>
<rect x="1206" y="248" width="5" height="2" fill="#000"/>
<rect x="1216" y="228" width="1" height="26" fill="#000"/>
<rect x="1214" y="231" width="5" height="19" fill="#000"/>
<rect x="1215" y="232" width="3" height="17" fill="#fff"/>
<rect x="1224" y="221" width="1" height="11" fill="#000"/>
<rect x="1222" y="222" width="5" height="9" fill="#000"/>
<rect x="1223" y="223" width="3" height="7" fill="#fff"/>
<rect x="1232" y="200" width="1" height="25" fill="#000"/>
<rect x="1230" y="200" width="5" height="22" fill="#000"/>
<rect x="1231" y="201" width="3" height="20" fill="#fff"/>
<rect x="1240" y="175" width="1" height="28" fill="#000"/>
<rect x="1238" y="181" width="5" height="18" fill="#000"/>
<rect x="1239" y="182" width="3" height="16" fill="#fff"/>
<rect x="1248" y="178" width="1" height="28" fill="#000"/>
<rect x="1246" y="181" width="5" height="15" fill="#000"/>
<rect x="1256" y="170" width="1" height="32" fill="#000"/>
<rect x="1254" y="175" width="5" height="20" fill="#000"/>
<rect x="1255" y="176" width="3" height="18" fill="#fff"/>
<rect x="1264" y="160" width="1" height="23" fill="#000"/>
<rect x="1262" y="170" width="5" height="5" fill="#000"/>
<rect x="1263" y="171" width="3" height="3" fill="#fff"/>
<rect x="1272" y="163" width="1" height="8" fill="#000"/>
<rect x="1270" y="163" width="5" height="7" fill="#000"/>
<rect x="1271" y="164" width="3" height="5" fill="#fff"/>
<rect x="1280" y="157" width="1" height="19" fill="#000"/>
<rect x="1278" y="164" width="5" height="8" fill="#000"/>
<rect x="1288" y="148" width="1" height="25" fill="#000"/>
<rect x="1286" y="148" width="5" height="23" fill="#000"/>
<rect x="1287" y="149" width="3" height="21" fill="#fff"/>
<rect x="1296" y="112" width="1" height="37" fill="#000"/>
<rect x="1294" y="117" width="5" height="31" fill="#000"/>
<rect x="1295" y="118" width="3" height="29" fill="#fff"/>
<rect x="1304" y="103" width="1" height="49" fill="#000"/>
<rect x="1302" y="117" width="5" height="24" fill="#000"/>
<rect x="1312" y="137" width="1" height="37" fill="#000"/>
<rect x="1310" y="140" width="5" height="8" fill="#000"/>
<rect x="1320" y="142" width="1" height="14" fill="#000"/>
<rect x="1318" y="145" width="5" height="11" fill="#000"/>
<rect x="1319" y="146" width="3" height="9" fill="#fff"/>
<rect x="1328" y="132" width="1" height="25" fill="#000"/>
<rect x="1326" y="144" width="5" height="2" fill="#000"/>
<rect x="1336" y="134" width="1" height="29" fill="#000"/>
<rect x="1334" y="140" width="5" height="4" fill="#000"/>
<rect x="1335" y="141" width="3" height="2" fill="#fff"/>
<rect x="1344" y="122" width="1" height="20" fill="#000"/>
<rect x="1342" y="138" width="5" height="3" fill="#000"/>
<rect x="1343" y="139" width="3" height="1" fill="#fff"/>
<rect x="1352" y="95" width="1" height="43" fill="#000"/>
<rect x="1350" y="114" width="5" height="24" fill="#000"/>
<rect x="1351" y="115" width="3" height="22" fill="#fff"/>
<rect x="1360" y="105" width="1" height="23" fill="#000"/>
<rect x="1358" y="115" width="5" height="2" fill="#000"/>
<rect x="1368" y="105" width="1" height="12" fill="#000"/>
<rect x="1366" y="110" width="5" height="6" fill="#000"/>
<rect x="1367" y="111" width="3" height="4" fill="#fff"/>
<rect x="1376" y="96" width="1" height="27" fill="#000"/>
<rect x="1374" y="100" width="5" height="11" fill="#000"/>
<rect x="1375" y="101" width="3" height="9" fill="#fff"/>
<rect x="1384" y="87" width="1" height="13" fill="#000"/>
<rect x="1382" y="94" width="5" height="6" fill="#000"/>
<rect x="1383" y="95" width="3" height="4" fill="#fff"/>
<rect x="1392" y="87" width="1" height="12" fill="#000"/>
<rect x="1390" y="88" width="5" height="10" fill="#000"/>
<rect x="1391" y="89" width="3" height="8" fill="#fff"/>
<rect x="1400" y="70" width="1" height="20" fill="#000"/>
<rect x="1398" y="71" width="5" height="17" fill="#000"/>
<rect x="1399" y="72" width="3" height="15" fill="#fff"/>
<rect x="1320" y="80" width="123" height="7" fill="#00FF00"/>
<line x1="1152" y1="300.5" x2="1282.9" y2="124.8" stroke="#FF0000" stroke-width="3.2"/>
<polygon points="1289.5,116 1286.1,129.7 1277.3,123.1" fill="#FF0000"/>
<line x1="1290" y1="119" x2="1311.7" y2="177.2" stroke="#FF0000" stroke-width="3.2"/>
<polygon points="1315.5,187.5 1305.8,177.2 1316.1,173.4" fill="#FF0000"/>
<line x1="1319" y1="176" x2="1423.1" y2="61.1" stroke="#FF0000" stroke-width="3.2"/>
<polygon points="1430.5,53 1425.8,66.3 1417.7,58.9" fill="#FF0000"/>
<path d="M1474.78,106.00 L1469.38,111.32 M1472.26,109.04 L1478.74,109.04 L1470.10,115.50 M1472.98,111.32 L1475.86,113.22 M1476.22,114.74 L1469.74,119.68 M1473.34,117.40 L1481.62,117.40 L1469.02,125.00 M1474.78,120.06 L1478.02,121.96 M1497.50,106.00 L1497.50,107.90 M1489.94,110.94 L1489.94,109.04 L1505.06,109.04 L1505.06,110.94 M1494.98,111.32 L1491.38,115.12 M1499.66,111.32 L1503.98,115.12 M1492.46,117.40 L1502.54,117.40 M1497.50,117.40 L1497.50,123.86 M1489.58,123.86 L1505.42,123.86 M1511.22,110.18 L1518.06,110.18 M1515.18,106.38 L1512.30,116.64 L1518.06,115.88 M1515.18,112.84 L1515.18,125.00 M1511.22,120.44 L1518.42,119.30 M1519.86,110.94 L1527.78,110.94 M1523.82,106.38 L1521.66,117.78 M1519.14,114.74 L1528.14,114.74 M1521.66,117.78 L1526.34,117.78 L1522.74,121.96 M1522.74,121.20 L1526.34,124.62 M1532.86,111.70 L1539.70,111.70 M1536.82,106.38 L1536.82,123.86 L1535.02,122.72 M1532.86,119.30 L1539.70,116.26 M1549.42,106.76 L1542.58,109.42 M1542.58,109.42 L1542.58,118.16 L1540.78,125.00 M1542.58,114.74 L1550.14,114.74 M1546.54,114.74 L1546.54,125.00 M1562.42,106.00 L1562.42,114.74 M1562.42,110.18 L1568.90,110.18 M1557.74,114.74 L1568.90,114.74 L1568.90,119.68 L1557.74,119.68 L1557.74,114.74 M1556.66,121.96 L1555.22,124.62 M1560.62,121.96 L1561.34,124.62 M1564.58,121.96 L1565.30,124.62 M1568.54,121.96 L1570.70,124.62" fill="none" stroke="#00FF00" stroke-width="1.0" stroke-linecap="square" shape-rendering="auto"/>
</g>
<g clip-path="url(#cmacd)">
<rect x="0" y="621" width="1" height="52" fill="#C0C0C0"/>
<rect x="8" y="622" width="1" height="51" fill="#C0C0C0"/>
<rect x="16" y="625" width="1" height="48" fill="#C0C0C0"/>
<rect x="24" y="626" width="1" height="47" fill="#C0C0C0"/>
<rect x="32" y="631" width="1" height="42" fill="#C0C0C0"/>
<rect x="40" y="636" width="1" height="37" fill="#C0C0C0"/>
<rect x="48" y="640" width="1" height="33" fill="#C0C0C0"/>
<rect x="56" y="638" width="1" height="35" fill="#C0C0C0"/>
<rect x="64" y="637" width="1" height="36" fill="#C0C0C0"/>
<rect x="72" y="633" width="1" height="40" fill="#C0C0C0"/>
<rect x="80" y="631" width="1" height="42" fill="#C0C0C0"/>
<rect x="88" y="629" width="1" height="44" fill="#C0C0C0"/>
<rect x="96" y="624" width="1" height="49" fill="#C0C0C0"/>
<rect x="104" y="621" width="1" height="52" fill="#C0C0C0"/>
<rect x="112" y="619" width="1" height="54" fill="#C0C0C0"/>
<rect x="120" y="622" width="1" height="51" fill="#C0C0C0"/>
<rect x="128" y="624" width="1" height="49" fill="#C0C0C0"/>
<rect x="136" y="627" width="1" height="46" fill="#C0C0C0"/>
<rect x="144" y="634" width="1" height="39" fill="#C0C0C0"/>
<rect x="152" y="649" width="1" height="24" fill="#C0C0C0"/>
<rect x="160" y="659" width="1" height="14" fill="#C0C0C0"/>
<rect x="168" y="672" width="1" height="5" fill="#C0C0C0"/>
<rect x="176" y="672" width="1" height="19" fill="#C0C0C0"/>
<rect x="184" y="672" width="1" height="28" fill="#C0C0C0"/>
<rect x="192" y="672" width="1" height="36" fill="#C0C0C0"/>
<rect x="200" y="672" width="1" height="42" fill="#C0C0C0"/>
<rect x="208" y="672" width="1" height="45" fill="#C0C0C0"/>
<rect x="216" y="672" width="1" height="47" fill="#C0C0C0"/>
<rect x="224" y="672" width="1" height="52" fill="#C0C0C0"/>
<rect x="232" y="672" width="1" height="55" fill="#C0C0C0"/>
<rect x="240" y="672" width="1" height="60" fill="#C0C0C0"/>
<rect x="248" y="672" width="1" height="65" fill="#C0C0C0"/>
<rect x="256" y="672" width="1" height="69" fill="#C0C0C0"/>
<rect x="264" y="672" width="1" height="68" fill="#C0C0C0"/>
<rect x="272" y="672" width="1" height="67" fill="#C0C0C0"/>
<rect x="280" y="672" width="1" height="64" fill="#C0C0C0"/>
<rect x="288" y="672" width="1" height="57" fill="#C0C0C0"/>
<rect x="296" y="672" width="1" height="50" fill="#C0C0C0"/>
<rect x="304" y="672" width="1" height="43" fill="#C0C0C0"/>
<rect x="312" y="672" width="1" height="37" fill="#C0C0C0"/>
<rect x="320" y="672" width="1" height="32" fill="#C0C0C0"/>
<rect x="328" y="672" width="1" height="26" fill="#C0C0C0"/>
<rect x="336" y="672" width="1" height="18" fill="#C0C0C0"/>
<rect x="344" y="672" width="1" height="17" fill="#C0C0C0"/>
<rect x="352" y="672" width="1" height="12" fill="#C0C0C0"/>
<rect x="360" y="672" width="1" height="7" fill="#C0C0C0"/>
<rect x="368" y="672" width="1" height="1" fill="#C0C0C0"/>
<rect x="376" y="668" width="1" height="5" fill="#C0C0C0"/>
<rect x="384" y="664" width="1" height="9" fill="#C0C0C0"/>
<rect x="392" y="667" width="1" height="6" fill="#C0C0C0"/>
<rect x="400" y="667" width="1" height="6" fill="#C0C0C0"/>
<rect x="408" y="671" width="1" height="2" fill="#C0C0C0"/>
<rect x="416" y="672" width="1" height="1" fill="#C0C0C0"/>
<rect x="424" y="672" width="1" height="3" fill="#C0C0C0"/>
<rect x="432" y="672" width="1" height="3" fill="#C0C0C0"/>
<rect x="440" y="672" width="1" height="2" fill="#C0C0C0"/>
<rect x="448" y="669" width="1" height="4" fill="#C0C0C0"/>
<rect x="456" y="668" width="1" height="5" fill="#C0C0C0"/>
<rect x="464" y="669" width="1" height="4" fill="#C0C0C0"/>
<rect x="472" y="670" width="1" height="3" fill="#C0C0C0"/>
<rect x="480" y="671" width="1" height="2" fill="#C0C0C0"/>
<rect x="488" y="672" width="1" height="2" fill="#C0C0C0"/>
<rect x="496" y="672" width="1" height="6" fill="#C0C0C0"/>
<rect x="504" y="672" width="1" height="11" fill="#C0C0C0"/>
<rect x="512" y="672" width="1" height="13" fill="#C0C0C0"/>
<rect x="520" y="672" width="1" height="16" fill="#C0C0C0"/>
<rect x="528" y="672" width="1" height="18" fill="#C0C0C0"/>
<rect x="536" y="672" width="1" height="11" fill="#C0C0C0"/>
<rect x="544" y="672" width="1" height="14" fill="#C0C0C0"/>
<rect x="552" y="672" width="1" height="12" fill="#C0C0C0"/>
<rect x="560" y="672" width="1" height="12" fill="#C0C0C0"/>
<rect x="568" y="672" width="1" height="11" fill="#C0C0C0"/>
<rect x="576" y="671" width="1" height="2" fill="#C0C0C0"/>
<rect x="584" y="658" width="1" height="15" fill="#C0C0C0"/>
<rect x="592" y="649" width="1" height="24" fill="#C0C0C0"/>
<rect x="600" y="648" width="1" height="25" fill="#C0C0C0"/>
<rect x="608" y="648" width="1" height="25" fill="#C0C0C0"/>
<rect x="616" y="646" width="1" height="27" fill="#C0C0C0"/>
<rect x="624" y="645" width="1" height="28" fill="#C0C0C0"/>
<rect x="632" y="646" width="1" height="27" fill="#C0C0C0"/>
<rect x="640" y="648" width="1" height="25" fill="#C0C0C0"/>
<rect x="648" y="650" width="1" height="23" fill="#C0C0C0"/>
<rect x="656" y="651" width="1" height="22" fill="#C0C0C0"/>
<rect x="664" y="651" width="1" height="22" fill="#C0C0C0"/>
<rect x="672" y="646" width="1" height="27" fill="#C0C0C0"/>
<rect x="680" y="642" width="1" height="31" fill="#C0C0C0"/>
<rect x="688" y="638" width="1" height="35" fill="#C0C0C0"/>
<rect x="696" y="638" width="1" height="35" fill="#C0C0C0"/>
<rect x="704" y="641" width="1" height="32" fill="#C0C0C0"/>
<rect x="712" y="643" width="1" height="30" fill="#C0C0C0"/>
<rect x="720" y="643" width="1" height="30" fill="#C0C0C0"/>
<rect x="728" y="640" width="1" height="33" fill="#C0C0C0"/>
<rect x="736" y="639" width="1" height="34" fill="#C0C0C0"/>
<rect x="744" y="639" width="1" height="34" fill="#C0C0C0"/>
<rect x="752" y="638" width="1" height="35" fill="#C0C0C0"/>
<rect x="760" y="638" width="1" height="35" fill="#C0C0C0"/>
<rect x="768" y="643" width="1" height="30" fill="#C0C0C0"/>
<rect x="776" y="645" width="1" height="28" fill="#C0C0C0"/>
<rect x="784" y="646" width="1" height="27" fill="#C0C0C0"/>
<rect x="792" y="651" width="1" height="22" fill="#C0C0C0"/>
<rect x="800" y="659" width="1" height="14" fill="#C0C0C0"/>
<rect x="808" y="662" width="1" height="11" fill="#C0C0C0"/>
<rect x="816" y="664" width="1" height="9" fill="#C0C0C0"/>
<rect x="824" y="662" width="1" height="11" fill="#C0C0C0"/>
<rect x="832" y="659" width="1" height="14" fill="#C0C0C0"/>
<rect x="840" y="657" width="1" height="16" fill="#C0C0C0"/>
<rect x="848" y="656" width="1" height="17" fill="#C0C0C0"/>
<rect x="856" y="660" width="1" height="13" fill="#C0C0C0"/>
<rect x="864" y="661" width="1" height="12" fill="#C0C0C0"/>
<rect x="872" y="664" width="1" height="9" fill="#C0C0C0"/>
<rect x="880" y="661" width="1" height="12" fill="#C0C0C0"/>
<rect x="888" y="657" width="1" height="16" fill="#C0C0C0"/>
<rect x="896" y="653" width="1" height="20" fill="#C0C0C0"/>
<rect x="904" y="654" width="1" height="19" fill="#C0C0C0"/>
<rect x="912" y="655" width="1" height="18" fill="#C0C0C0"/>
<rect x="920" y="652" width="1" height="21" fill="#C0C0C0"/>
<rect x="928" y="648" width="1" height="25" fill="#C0C0C0"/>
<rect x="936" y="645" width="1" height="28" fill="#C0C0C0"/>
<rect x="944" y="648" width="1" height="25" fill="#C0C0C0"/>
<rect x="952" y="650" width="1" height="23" fill="#C0C0C0"/>
<rect x="960" y="651" width="1" height="22" fill="#C0C0C0"/>
<rect x="968" y="649" width="1" height="24" fill="#C0C0C0"/>
<rect x="976" y="648" width="1" height="25" fill="#C0C0C0"/>
<rect x="984" y="648" width="1" height="25" fill="#C0C0C0"/>
<rect x="992" y="648" width="1" height="25" fill="#C0C0C0"/>
<rect x="1000" y="645" width="1" height="28" fill="#C0C0C0"/>
<rect x="1008" y="643" width="1" height="30" fill="#C0C0C0"/>
<rect x="1016" y="640" width="1" height="33" fill="#C0C0C0"/>
<rect x="1024" y="642" width="1" height="31" fill="#C0C0C0"/>
<rect x="1032" y="644" width="1" height="29" fill="#C0C0C0"/>
<rect x="1040" y="647" width="1" height="26" fill="#C0C0C0"/>
<rect x="1048" y="646" width="1" height="27" fill="#C0C0C0"/>
<rect x="1056" y="646" width="1" height="27" fill="#C0C0C0"/>
<rect x="1064" y="644" width="1" height="29" fill="#C0C0C0"/>
<rect x="1072" y="643" width="1" height="30" fill="#C0C0C0"/>
<rect x="1080" y="643" width="1" height="30" fill="#C0C0C0"/>
<rect x="1088" y="644" width="1" height="29" fill="#C0C0C0"/>
<rect x="1096" y="643" width="1" height="30" fill="#C0C0C0"/>
<rect x="1104" y="642" width="1" height="31" fill="#C0C0C0"/>
<rect x="1112" y="639" width="1" height="34" fill="#C0C0C0"/>
<rect x="1120" y="635" width="1" height="38" fill="#C0C0C0"/>
<rect x="1128" y="633" width="1" height="40" fill="#C0C0C0"/>
<rect x="1136" y="632" width="1" height="41" fill="#C0C0C0"/>
<rect x="1144" y="632" width="1" height="41" fill="#C0C0C0"/>
<rect x="1152" y="632" width="1" height="41" fill="#C0C0C0"/>
<rect x="1160" y="629" width="1" height="44" fill="#C0C0C0"/>
<rect x="1168" y="625" width="1" height="48" fill="#C0C0C0"/>
<rect x="1176" y="623" width="1" height="50" fill="#C0C0C0"/>
<rect x="1184" y="622" width="1" height="51" fill="#C0C0C0"/>
<rect x="1192" y="622" width="1" height="51" fill="#C0C0C0"/>
<rect x="1200" y="623" width="1" height="50" fill="#C0C0C0"/>
<rect x="1208" y="623" width="1" height="50" fill="#C0C0C0"/>
<rect x="1216" y="622" width="1" height="51" fill="#C0C0C0"/>
<rect x="1224" y="619" width="1" height="54" fill="#C0C0C0"/>
<rect x="1232" y="615" width="1" height="58" fill="#C0C0C0"/>
<rect x="1240" y="609" width="1" height="64" fill="#C0C0C0"/>
<rect x="1248" y="607" width="1" height="66" fill="#C0C0C0"/>
<rect x="1256" y="603" width="1" height="70" fill="#C0C0C0"/>
<rect x="1264" y="600" width="1" height="73" fill="#C0C0C0"/>
<rect x="1272" y="597" width="1" height="76" fill="#C0C0C0"/>
<rect x="1280" y="598" width="1" height="75" fill="#C0C0C0"/>
<rect x="1288" y="595" width="1" height="78" fill="#C0C0C0"/>
<rect x="1296" y="588" width="1" height="85" fill="#C0C0C0"/>
<rect x="1304" y="588" width="1" height="85" fill="#C0C0C0"/>
<rect x="1312" y="590" width="1" height="83" fill="#C0C0C0"/>
<rect x="1320" y="592" width="1" height="81" fill="#C0C0C0"/>
<rect x="1328" y="594" width="1" height="79" fill="#C0C0C0"/>
<rect x="1336" y="597" width="1" height="76" fill="#C0C0C0"/>
<rect x="1344" y="599" width="1" height="74" fill="#C0C0C0"/>
<rect x="1352" y="597" width="1" height="76" fill="#C0C0C0"/>
<rect x="1360" y="597" width="1" height="76" fill="#C0C0C0"/>
<rect x="1368" y="597" width="1" height="76" fill="#C0C0C0"/>
<rect x="1376" y="597" width="1" height="76" fill="#C0C0C0"/>
<rect x="1384" y="596" width="1" height="77" fill="#C0C0C0"/>
<rect x="1392" y="595" width="1" height="78" fill="#C0C0C0"/>
<rect x="1400" y="593" width="1" height="80" fill="#C0C0C0"/>
<polyline points="0.5,618.3 8.5,619.4 16.5,619.4 24.5,619.4 32.5,620.5 40.5,622.0 48.5,625.0 56.5,626.6 64.5,628.6 72.5,629.9 80.5,631.7 88.5,632.5 96.5,632.3 104.5,631.4 112.5,629.6 120.5,627.5 128.5,626.2 136.5,625.2 144.5,625.5 152.5,627.3 160.5,630.8 168.5,635.3 176.5,644.0 184.5,653.8 192.5,663.2 200.5,673.1 208.5,683.0 216.5,692.4 224.5,700.6 232.5,708.0 240.5,714.2 248.5,719.4 256.5,723.9 264.5,727.4 272.5,730.1 280.5,732.3 288.5,733.3 296.5,733.0 304.5,731.7 312.5,729.1 320.5,725.3 328.5,720.7 336.5,715.1 344.5,709.6 352.5,703.9 360.5,698.4 368.5,693.0 376.5,687.8 384.5,682.9 392.5,678.9 400.5,675.6 408.5,673.5 416.5,671.8 424.5,670.7 432.5,670.2 440.5,670.3 448.5,670.5 456.5,670.9 464.5,671.2 472.5,671.5 480.5,671.5 488.5,671.6 496.5,672.0 504.5,673.0 512.5,674.2 520.5,676.2 528.5,678.5 536.5,680.0 544.5,681.6 552.5,683.0 560.5,684.1 568.5,684.5 576.5,683.3 584.5,680.4 592.5,676.2 600.5,671.7 608.5,667.8 616.5,663.5 624.5,659.3 632.5,655.2 640.5,651.4 648.5,649.1 656.5,648.3 664.5,648.6 672.5,648.4 680.5,647.7 688.5,646.9 696.5,646.1 704.5,645.6 712.5,645.0 720.5,644.2 728.5,642.9 736.5,641.6 744.5,640.8 752.5,640.3 760.5,640.4 768.5,640.9 776.5,641.4 784.5,641.8 792.5,642.7 800.5,644.8 808.5,647.3 816.5,650.1 824.5,652.7 832.5,655.0 840.5,656.6 848.5,657.8 856.5,659.3 864.5,660.4 872.5,660.9 880.5,660.8 888.5,660.1 896.5,659.1 904.5,658.5 912.5,658.3 920.5,657.8 928.5,656.6 936.5,654.8 944.5,653.0 952.5,651.8 960.5,651.1 968.5,650.7 976.5,650.0 984.5,649.3 992.5,648.9 1000.5,648.5 1008.5,648.3 1016.5,647.4 1024.5,646.5 1032.5,645.8 1040.5,645.5 1048.5,645.2 1056.5,645.0 1064.5,644.5 1072.5,644.4 1080.5,644.4 1088.5,644.9 1096.5,644.9 1104.5,644.7 1112.5,643.8 1120.5,642.6 1128.5,641.2 1136.5,639.8 1144.5,638.5 1152.5,637.3 1160.5,635.6 1168.5,633.7 1176.5,631.5 1184.5,629.7 1192.5,628.3 1200.5,627.1 1208.5,626.1 1216.5,625.0 1224.5,623.6 1232.5,622.1 1240.5,620.2 1248.5,618.5 1256.5,616.5 1264.5,614.0 1272.5,611.2 1280.5,608.3 1288.5,605.3 1296.5,601.9 1304.5,598.9 1312.5,596.8 1320.5,595.2 1328.5,594.2 1336.5,593.8 1344.5,593.9 1352.5,593.9 1360.5,594.2 1368.5,595.2 1376.5,596.1 1384.5,596.8 1392.5,597.2 1400.5,597.0" fill="none" stroke="#FF0000" stroke-width="1" stroke-dasharray="3,3"/>
<line x1="1107.5" y1="644.2" x2="1292.9" y2="589.8" stroke="#FF0000" stroke-width="3.2"/>
<polygon points="1302.5,587 1292.4,595.2 1289.6,585.6" fill="#FF0000"/>
<line x1="1303" y1="587.5" x2="1393.0" y2="594.9" stroke="#FF0000" stroke-width="3.2"/>
<polygon points="1403,595.7 1390.6,599.7 1391.4,589.7" fill="#FF0000"/>
</g>
<g clip-path="url(#crsi)">
<line x1="0" y1="786.5" x2="1670" y2="786.5" stroke="#C0C0C0" stroke-width="1" stroke-dasharray="3,3" stroke-dashoffset="1"/>
<line x1="0" y1="837.5" x2="1670" y2="837.5" stroke="#C0C0C0" stroke-width="1" stroke-dasharray="3,3" stroke-dashoffset="1"/>
<line x1="0" y1="898.5" x2="1670" y2="898.5" stroke="#C0C0C0" stroke-width="1" stroke-dasharray="3,3" stroke-dashoffset="1"/>
<polyline points="0.5,818.0 8.5,811.6 16.5,819.6 24.5,812.2 32.5,831.7 40.5,831.3 48.5,831.8 56.5,815.9 64.5,816.3 72.5,807.8 80.5,810.3 88.5,807.7 96.5,801.6 104.5,799.7 112.5,802.6 120.5,822.3 128.5,817.4 136.5,823.2 144.5,836.3 152.5,861.2 160.5,852.5 168.5,867.1 176.5,868.5 184.5,866.2 192.5,866.6 200.5,866.9 208.5,861.7 216.5,864.4 224.5,869.4 232.5,869.4 240.5,876.1 248.5,878.4 256.5,877.8 264.5,867.0 272.5,867.8 280.5,861.2 288.5,846.3 296.5,843.6 304.5,840.3 312.5,843.2 320.5,838.4 328.5,836.6 336.5,824.7 344.5,842.0 352.5,832.7 360.5,828.7 368.5,823.3 376.5,824.9 384.5,825.4 392.5,842.1 400.5,836.6 408.5,847.0 416.5,842.3 424.5,842.7 432.5,838.9 440.5,837.3 448.5,827.2 456.5,831.5 464.5,841.0 472.5,838.5 480.5,842.0 488.5,844.9 496.5,854.1 504.5,857.7 512.5,849.9 520.5,855.9 528.5,853.0 536.5,827.7 544.5,847.6 552.5,839.5 560.5,842.5 568.5,839.8 576.5,818.4 584.5,810.9 592.5,813.5 600.5,829.4 608.5,829.7 616.5,825.4 624.5,827.3 632.5,828.8 640.5,833.3 648.5,835.1 656.5,831.5 664.5,828.6 672.5,817.2 680.5,814.6 688.5,813.9 696.5,822.0 704.5,832.7 712.5,828.7 720.5,825.4 728.5,816.6 736.5,822.0 744.5,822.0 752.5,818.7 760.5,822.2 768.5,834.8 776.5,831.0 784.5,828.5 792.5,840.3 800.5,851.7 808.5,840.4 816.5,838.4 824.5,829.8 832.5,825.9 840.5,823.6 848.5,829.9 856.5,840.7 864.5,837.2 872.5,840.3 880.5,826.7 888.5,821.5 896.5,820.3 904.5,832.2 912.5,831.2 920.5,822.5 928.5,818.3 936.5,815.6 944.5,834.1 952.5,834.6 960.5,829.5 968.5,823.9 976.5,823.1 984.5,826.8 992.5,825.5 1000.5,814.6 1008.5,816.6 1016.5,812.5 1024.5,829.7 1032.5,829.7 1040.5,832.6 1048.5,821.3 1056.5,825.5 1064.5,819.0 1072.5,819.9 1080.5,819.9 1088.5,822.3 1096.5,816.5 1104.5,816.3 1112.5,807.2 1120.5,803.6 1128.5,806.2 1136.5,806.2 1144.5,805.9 1152.5,809.6 1160.5,797.6 1168.5,794.2 1176.5,793.8 1184.5,798.7 1192.5,802.1 1200.5,799.9 1208.5,801.1 1216.5,793.1 1224.5,789.8 1232.5,783.4 1240.5,779.0 1248.5,794.4 1256.5,788.6 1264.5,787.3 1272.5,785.7 1280.5,794.4 1288.5,787.9 1296.5,781.6 1304.5,799.6 1312.5,804.4 1320.5,803.6 1328.5,803.4 1336.5,802.1 1344.5,801.3 1352.5,793.8 1360.5,794.3 1368.5,793.0 1376.5,790.1 1384.5,788.4 1392.5,786.5 1400.5,782.6" fill="none" stroke="#1E90FF" stroke-width="1"/>
<line x1="1310.6" y1="798.2" x2="1389.8" y2="779.3" stroke="#FF0000" stroke-width="3.2"/>
<polygon points="1399.5,777 1389.0,784.6 1386.7,774.9" fill="#FF0000"/>
</g>
<rect x="0" y="23" width="1671" height="1" fill="#000"/>
<rect x="1670" y="23" width="1" height="554" fill="#000"/>
<rect x="0" y="576" width="1671" height="1" fill="#000"/>
<rect x="0" y="578" width="1671" height="1" fill="#000"/>
<rect x="1670" y="578" width="1" height="171" fill="#000"/>
<rect x="0" y="748" width="1671" height="1" fill="#000"/>
<rect x="0" y="750" width="1671" height="1" fill="#000"/>
<rect x="1670" y="750" width="1" height="175" fill="#000"/>
<rect x="0" y="924" width="1671" height="1" fill="#000"/>
<rect x="1671" y="144" width="2" height="1" fill="#000"/>
<text x="1676" y="148" font-size="10" fill="#000" text-anchor="start" textLength="32.5" lengthAdjust="spacingAndGlyphs">148.800</text>
<rect x="1671" y="177" width="2" height="1" fill="#000"/>
<text x="1676" y="181" font-size="10" fill="#000" text-anchor="start" textLength="32.5" lengthAdjust="spacingAndGlyphs">147.470</text>
<rect x="1671" y="210" width="2" height="1" fill="#000"/>
<text x="1676" y="214" font-size="10" fill="#000" text-anchor="start" textLength="32.5" lengthAdjust="spacingAndGlyphs">146.175</text>
<rect x="1671" y="243" width="2" height="1" fill="#000"/>
<text x="1676" y="247" font-size="10" fill="#000" text-anchor="start" textLength="32.5" lengthAdjust="spacingAndGlyphs">144.880</text>
<rect x="1671" y="277" width="2" height="1" fill="#000"/>
<text x="1676" y="281" font-size="10" fill="#000" text-anchor="start" textLength="32.5" lengthAdjust="spacingAndGlyphs">143.550</text>
<rect x="1671" y="309" width="2" height="1" fill="#000"/>
<text x="1676" y="313" font-size="10" fill="#000" text-anchor="start" textLength="32.5" lengthAdjust="spacingAndGlyphs">142.255</text>
<rect x="1671" y="342" width="2" height="1" fill="#000"/>
<text x="1676" y="346" font-size="10" fill="#000" text-anchor="start" textLength="32.5" lengthAdjust="spacingAndGlyphs">140.960</text>
<rect x="1671" y="375" width="2" height="1" fill="#000"/>
<text x="1676" y="379" font-size="10" fill="#000" text-anchor="start" textLength="32.5" lengthAdjust="spacingAndGlyphs">139.665</text>
<rect x="1671" y="409" width="2" height="1" fill="#000"/>
<text x="1676" y="413" font-size="10" fill="#000" text-anchor="start" textLength="32.5" lengthAdjust="spacingAndGlyphs">138.335</text>
<rect x="1671" y="441" width="2" height="1" fill="#000"/>
<text x="1676" y="445" font-size="10" fill="#000" text-anchor="start" textLength="32.5" lengthAdjust="spacingAndGlyphs">137.040</text>
<rect x="1671" y="474" width="2" height="1" fill="#000"/>
<text x="1676" y="478" font-size="10" fill="#000" text-anchor="start" textLength="32.5" lengthAdjust="spacingAndGlyphs">135.745</text>
<rect x="1671" y="508" width="2" height="1" fill="#000"/>
<text x="1676" y="512" font-size="10" fill="#000" text-anchor="start" textLength="32.5" lengthAdjust="spacingAndGlyphs">134.415</text>
<rect x="1671" y="541" width="2" height="1" fill="#000"/>
<text x="1676" y="545" font-size="10" fill="#000" text-anchor="start" textLength="32.5" lengthAdjust="spacingAndGlyphs">133.120</text>
<rect x="1671" y="573" width="2" height="1" fill="#000"/>
<text x="1676" y="577" font-size="10" fill="#000" text-anchor="start" textLength="32.5" lengthAdjust="spacingAndGlyphs">131.825</text>
<rect x="1671" y="111" width="2" height="1" fill="#000"/>
<text x="1676" y="115" font-size="10" fill="#000" text-anchor="start" textLength="32.5" lengthAdjust="spacingAndGlyphs">150.095</text>
<rect x="1671" y="78" width="2" height="1" fill="#000"/>
<text x="1676" y="82" font-size="10" fill="#000" text-anchor="start" textLength="32.5" lengthAdjust="spacingAndGlyphs">151.390</text>
<rect x="1671" y="45" width="2" height="1" fill="#000"/>
<text x="1676" y="49" font-size="10" fill="#000" text-anchor="start" textLength="32.5" lengthAdjust="spacingAndGlyphs">152.720</text>
<rect x="1672" y="33" width="41" height="11" fill="#FF0000"/>
<text x="1676" y="42" font-size="10" fill="#fff" text-anchor="start" textLength="32.5" lengthAdjust="spacingAndGlyphs">152.928</text>
<rect x="1672" y="46" width="41" height="11" fill="#FF0000"/>
<text x="1676" y="55" font-size="10" fill="#fff" text-anchor="start" textLength="32.5" lengthAdjust="spacingAndGlyphs">152.414</text>
<rect x="1672" y="66" width="41" height="9" fill="#000000"/>
<text x="1676" y="75" font-size="10" fill="#fff" text-anchor="start" textLength="32.5" lengthAdjust="spacingAndGlyphs">151.693</text>
<rect x="1672" y="75" width="41" height="11" fill="#FFA500"/>
<text x="1676" y="84" font-size="10" fill="#fff" text-anchor="start" textLength="32.5" lengthAdjust="spacingAndGlyphs">151.269</text>
<rect x="1672" y="94" width="41" height="11" fill="#0000FF"/>
<text x="1676" y="103" font-size="10" fill="#fff" text-anchor="start" textLength="32.5" lengthAdjust="spacingAndGlyphs">150.519</text>
<rect x="1672" y="113" width="41" height="11" fill="#0000FF"/>
<text x="1676" y="122" font-size="10" fill="#fff" text-anchor="start" textLength="32.5" lengthAdjust="spacingAndGlyphs">149.766</text>
<rect x="1671" y="580" width="2" height="1" fill="#000"/>
<text x="1674.5" y="589" font-size="10" fill="#000" text-anchor="start" textLength="27.5" lengthAdjust="spacingAndGlyphs">1.8026</text>
<rect x="1671" y="672" width="2" height="1" fill="#000"/>
<text x="1674.5" y="676" font-size="10" fill="#000" text-anchor="start" textLength="17.5" lengthAdjust="spacingAndGlyphs">0.00</text>
<rect x="1671" y="747" width="2" height="1" fill="#000"/>
<text x="1674.5" y="745" font-size="10" fill="#000" text-anchor="start" textLength="30.5" lengthAdjust="spacingAndGlyphs">-1.4717</text>
<rect x="1671" y="750" width="2" height="1" fill="#000"/>
<rect x="1671" y="923" width="2" height="1" fill="#000"/>
<text x="1674" y="761" font-size="10" fill="#000" text-anchor="start" textLength="15.0" lengthAdjust="spacingAndGlyphs">100</text>
<text x="1674" y="790" font-size="10" fill="#000" text-anchor="start" textLength="10.0" lengthAdjust="spacingAndGlyphs">80</text>
<text x="1674" y="841" font-size="10" fill="#000" text-anchor="start" textLength="10.0" lengthAdjust="spacingAndGlyphs">50</text>
<text x="1674" y="902" font-size="10" fill="#000" text-anchor="start" textLength="10.0" lengthAdjust="spacingAndGlyphs">15</text>
<text x="1674" y="921" font-size="10" fill="#000" text-anchor="start" textLength="5.0" lengthAdjust="spacingAndGlyphs">0</text>
<rect x="-8" y="925" width="1" height="4" fill="#000"/>
<text x="-8.5" y="937" font-size="10" fill="#000" text-anchor="start" textLength="52.0" lengthAdjust="spacingAndGlyphs">16 Aug 2020</text>
<rect x="56" y="925" width="1" height="4" fill="#000"/>
<text x="55.5" y="937" font-size="10" fill="#000" text-anchor="start" textLength="52.0" lengthAdjust="spacingAndGlyphs">25 Aug 2020</text>
<rect x="120" y="925" width="1" height="4" fill="#000"/>
<text x="119.5" y="937" font-size="10" fill="#000" text-anchor="start" textLength="47.3" lengthAdjust="spacingAndGlyphs">3 Sep 2020</text>
<rect x="184" y="925" width="1" height="4" fill="#000"/>
<text x="183.5" y="937" font-size="10" fill="#000" text-anchor="start" textLength="52.5" lengthAdjust="spacingAndGlyphs">13 Sep 2020</text>
<rect x="248" y="925" width="1" height="4" fill="#000"/>
<text x="247.5" y="937" font-size="10" fill="#000" text-anchor="start" textLength="52.5" lengthAdjust="spacingAndGlyphs">22 Sep 2020</text>
<rect x="312" y="925" width="1" height="4" fill="#000"/>
<text x="311.5" y="937" font-size="10" fill="#000" text-anchor="start" textLength="45.3" lengthAdjust="spacingAndGlyphs">1 Oct 2020</text>
<rect x="376" y="925" width="1" height="4" fill="#000"/>
<text x="375.5" y="937" font-size="10" fill="#000" text-anchor="start" textLength="49.7" lengthAdjust="spacingAndGlyphs">11 Oct 2020</text>
<rect x="440" y="925" width="1" height="4" fill="#000"/>
<text x="439.5" y="937" font-size="10" fill="#000" text-anchor="start" textLength="50.4" lengthAdjust="spacingAndGlyphs">20 Oct 2020</text>
<rect x="504" y="925" width="1" height="4" fill="#000"/>
<text x="503.5" y="937" font-size="10" fill="#000" text-anchor="start" textLength="50.4" lengthAdjust="spacingAndGlyphs">29 Oct 2020</text>
<rect x="568" y="925" width="1" height="4" fill="#000"/>
<text x="567.5" y="937" font-size="10" fill="#000" text-anchor="start" textLength="47.3" lengthAdjust="spacingAndGlyphs">8 Nov 2020</text>
<rect x="632" y="925" width="1" height="4" fill="#000"/>
<text x="631.5" y="937" font-size="10" fill="#000" text-anchor="start" textLength="52.5" lengthAdjust="spacingAndGlyphs">17 Nov 2020</text>
<rect x="696" y="925" width="1" height="4" fill="#000"/>
<text x="695.5" y="937" font-size="10" fill="#000" text-anchor="start" textLength="52.5" lengthAdjust="spacingAndGlyphs">26 Nov 2020</text>
<rect x="760" y="925" width="1" height="4" fill="#000"/>
<text x="759.5" y="937" font-size="10" fill="#000" text-anchor="start" textLength="47.3" lengthAdjust="spacingAndGlyphs">6 Dec 2020</text>
<rect x="824" y="925" width="1" height="4" fill="#000"/>
<text x="823.5" y="937" font-size="10" fill="#000" text-anchor="start" textLength="52.5" lengthAdjust="spacingAndGlyphs">15 Dec 2020</text>
<rect x="888" y="925" width="1" height="4" fill="#000"/>
<text x="887.5" y="937" font-size="10" fill="#000" text-anchor="start" textLength="52.5" lengthAdjust="spacingAndGlyphs">24 Dec 2020</text>
<rect x="952" y="925" width="1" height="4" fill="#000"/>
<text x="951.5" y="937" font-size="10" fill="#000" text-anchor="start" textLength="45.8" lengthAdjust="spacingAndGlyphs">5 Jan 2021</text>
<rect x="1016" y="925" width="1" height="4" fill="#000"/>
<text x="1015.5" y="937" font-size="10" fill="#000" text-anchor="start" textLength="50.9" lengthAdjust="spacingAndGlyphs">14 Jan 2021</text>
<rect x="1080" y="925" width="1" height="4" fill="#000"/>
<text x="1079.5" y="937" font-size="10" fill="#000" text-anchor="start" textLength="50.9" lengthAdjust="spacingAndGlyphs">24 Jan 2021</text>
<rect x="1144" y="925" width="1" height="4" fill="#000"/>
<text x="1143.5" y="937" font-size="10" fill="#000" text-anchor="start" textLength="46.8" lengthAdjust="spacingAndGlyphs">2 Feb 2021</text>
<rect x="1208" y="925" width="1" height="4" fill="#000"/>
<text x="1207.5" y="937" font-size="10" fill="#000" text-anchor="start" textLength="51.3" lengthAdjust="spacingAndGlyphs">11 Feb 2021</text>
<rect x="1272" y="925" width="1" height="4" fill="#000"/>
<text x="1271.5" y="937" font-size="10" fill="#000" text-anchor="start" textLength="52.0" lengthAdjust="spacingAndGlyphs">21 Feb 2021</text>
<rect x="1336" y="925" width="1" height="4" fill="#000"/>
<text x="1335.5" y="937" font-size="10" fill="#000" text-anchor="start" textLength="46.8" lengthAdjust="spacingAndGlyphs">2 Mar 2021</text>
<rect x="1400" y="925" width="1" height="4" fill="#000"/>
<text x="1399.5" y="937" font-size="10" fill="#000" text-anchor="start" textLength="51.3" lengthAdjust="spacingAndGlyphs">11 Mar 2021</text>
<text x="7" y="35.2" font-size="10" fill="#000" text-anchor="start" textLength="62.8" lengthAdjust="spacingAndGlyphs">GBPJPY-,Daily</text>
<text x="76.5" y="35.2" font-size="10" fill="#000" text-anchor="start" textLength="140.0" lengthAdjust="spacingAndGlyphs">151.057 151.729 150.952 151.693</text>
<rect x="0" y="32" width="1" height="2" fill="#000"/><rect x="1" y="33" width="1" height="1" fill="#000"/>
<text x="-3" y="590.5" font-size="10" fill="#000" text-anchor="start" textLength="126.6" lengthAdjust="spacingAndGlyphs">MACD(12,26,9) 1.5565 1.4871</text>
<text x="-3" y="763" font-size="10" fill="#000" text-anchor="start" textLength="66.5" lengthAdjust="spacingAndGlyphs">RSI(14) 82.7113</text>
<defs>
<linearGradient id="gBtn" x1="0" y1="0" x2="0" y2="1"><stop offset="0" stop-color="#FC5458"/><stop offset="1" stop-color="#DE3236"/></linearGradient>
<linearGradient id="gPx" x1="0" y1="0" x2="0" y2="1"><stop offset="0" stop-color="#DC3438"/><stop offset="1" stop-color="#B20408"/></linearGradient>
<linearGradient id="gGray" x1="0" y1="0" x2="0" y2="1"><stop offset="0" stop-color="#F6F6F6"/><stop offset="1" stop-color="#D8D8D8"/></linearGradient>
</defs>
<g font-family="Liberation Sans, sans-serif">
<rect x="0" y="42" width="215" height="66" fill="#fff"/>
<rect x="106" y="67" width="108" height="40" fill="url(#gPx)"/>
<rect x="0" y="67" width="104" height="40" fill="url(#gPx)"/>
<rect x="0" y="43" width="47" height="25" fill="url(#gBtn)"/>
<rect x="162" y="43" width="52" height="25" fill="url(#gBtn)"/>
<rect x="0" y="43" width="47" height="1" fill="#B00000"/>
<rect x="46" y="43" width="1" height="25" fill="#B00000"/>
<rect x="46" y="67" width="58" height="1" fill="#B00000"/>
<rect x="103" y="67" width="1" height="40" fill="#A80000"/>
<rect x="0" y="106" width="104" height="1" fill="#A80000"/>
<rect x="0" y="66" width="43" height="1" fill="#8A0000"/>
<rect x="0" y="67" width="43" height="1" fill="#F46A6C"/>
<rect x="162" y="43" width="52" height="1" fill="#B00000"/>
<rect x="162" y="43" width="1" height="25" fill="#B00000"/>
<rect x="106" y="67" width="57" height="1" fill="#B00000"/>
<rect x="106" y="67" width="1" height="40" fill="#A80000"/>
<rect x="213" y="43" width="1" height="64" fill="#A80000"/>
<rect x="106" y="106" width="108" height="1" fill="#A80000"/>
<rect x="166" y="66" width="44" height="1" fill="#8A0000"/>
<rect x="166" y="67" width="44" height="1" fill="#F46A6C"/>
<rect x="49.5" y="43.5" width="110" height="21" fill="#fff" stroke="#B4B4B4"/>
<rect x="50.5" y="44.5" width="19" height="19" fill="url(#gGray)" stroke="#C8C8C8"/>
<rect x="138.5" y="44.5" width="20" height="19" fill="url(#gGray)" stroke="#C8C8C8"/>
<polygon points="57,52 62,52 59.5,55" fill="#4A64B4"/>
<polygon points="146,55 151,55 148.5,52" fill="#4A64B4"/>
<text x="134.5" y="58" font-size="12.4" text-anchor="end" fill="#000" textLength="23.5" lengthAdjust="spacingAndGlyphs">1.00</text>
<text x="7.4" y="59" font-size="12.4" fill="#fff" textLength="25.3" lengthAdjust="spacingAndGlyphs">SELL</text>
<text x="175.3" y="59" font-size="12.4" fill="#fff" textLength="23.5" lengthAdjust="spacingAndGlyphs">BUY</text>
<text x="18.6" y="97.6" font-size="11.6" font-weight="bold" fill="#fff" textLength="19.8" lengthAdjust="spacingAndGlyphs">151</text>
<text x="43.6" y="97.6" font-size="34.4" fill="#fff" textLength="33.3" lengthAdjust="spacingAndGlyphs">69</text>
<text x="82" y="81.6" font-size="11.6" font-weight="bold" fill="#fff" textLength="6.4" lengthAdjust="spacingAndGlyphs">3</text>
<text x="128" y="97.6" font-size="11.6" font-weight="bold" fill="#fff" textLength="20.6" lengthAdjust="spacingAndGlyphs">151</text>
<text x="153.7" y="97.6" font-size="34.4" fill="#fff" textLength="34.6" lengthAdjust="spacingAndGlyphs">74</text>
<text x="193.5" y="81.6" font-size="11.6" font-weight="bold" fill="#fff" textLength="5.7" lengthAdjust="spacingAndGlyphs">5</text>
</g>

</svg></body></html>
